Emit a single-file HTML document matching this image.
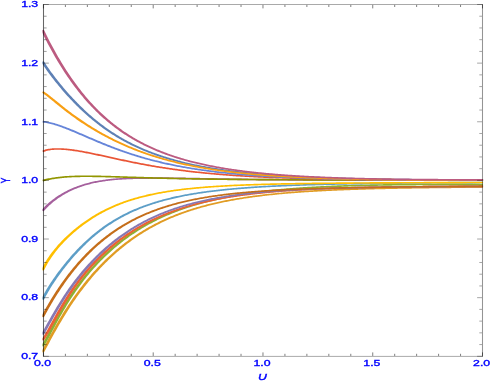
<!DOCTYPE html>
<html><head><meta charset="utf-8"><title>plot</title>
<style>
html,body{margin:0;padding:0;background:#fff;}
body{width:491px;height:382px;overflow:hidden;font-family:"Liberation Sans",sans-serif;}
svg{display:block}
text{font-family:"Liberation Sans",sans-serif;fill:#0000ff;stroke:#0000ff;stroke-width:0.35px;}
</style></head><body>
<svg width="491" height="382" viewBox="0 0 491 382">
<rect x="0" y="0" width="491" height="382" fill="#ffffff"/>
<defs><clipPath id="c"><rect x="42.45" y="4.5" width="440.65000000000003" height="351.8"/></clipPath></defs>

<g clip-path="url(#c)"><g transform="scale(1.8,1)" fill="none" stroke-width="1.65" stroke-linejoin="round" stroke-linecap="butt">
<path d="M23.59,61.59 L24.14,63.14 L24.75,64.82 L25.36,66.46 L25.97,68.06 L26.58,69.63 L27.19,71.18 L27.80,72.69 L28.41,74.18 L29.02,75.65 L29.63,77.10 L30.24,78.52 L30.85,79.93 L31.46,81.31 L32.07,82.68 L32.68,84.03 L33.29,85.37 L33.90,86.69 L34.51,87.99 L35.12,89.28 L35.72,90.55 L36.33,91.81 L36.94,93.06 L37.55,94.29 L38.16,95.51 L38.77,96.71 L39.38,97.90 L39.99,99.07 L40.60,100.23 L41.21,101.38 L41.82,102.51 L42.43,103.63 L43.04,104.74 L43.65,105.83 L44.26,106.91 L44.87,107.98 L45.48,109.03 L46.09,110.07 L46.70,111.10 L47.31,112.11 L47.92,113.11 L48.53,114.09 L49.14,115.07 L49.75,116.03 L50.36,116.98 L50.97,117.91 L51.58,118.84 L52.19,119.75 L52.80,120.64 L53.41,121.53 L54.02,122.40 L54.63,123.26 L55.24,124.11 L55.85,124.95 L56.46,125.77 L57.07,126.59 L57.68,127.39 L58.29,128.18 L58.90,128.96 L59.51,129.73 L60.12,130.48 L60.73,131.23 L61.34,131.96 L61.95,132.69 L62.56,133.40 L63.17,134.11 L63.78,134.80 L64.39,135.48 L64.99,136.15 L65.60,136.82 L66.21,137.47 L66.82,138.11 L67.43,138.74 L68.04,139.37 L68.65,139.98 L69.26,140.59 L69.87,141.18 L70.48,141.77 L71.09,142.35 L71.70,142.92 L72.31,143.48 L72.92,144.03 L73.53,144.58 L74.14,145.12 L74.75,145.64 L75.36,146.16 L75.97,146.68 L76.58,147.18 L77.19,147.68 L77.80,148.17 L78.41,148.65 L79.02,149.12 L79.63,149.59 L80.24,150.05 L80.85,150.50 L81.46,150.95 L82.07,151.39 L82.68,151.82 L83.29,152.25 L83.90,152.67 L84.51,153.08 L85.12,153.49 L85.73,153.89 L86.34,154.29 L86.95,154.68 L87.56,155.06 L88.17,155.44 L88.78,155.81 L89.39,156.17 L90.00,156.53 L90.61,156.89 L91.22,157.24 L91.83,157.58 L92.44,157.92 L93.05,158.26 L93.66,158.59 L94.26,158.91 L94.87,159.23 L95.48,159.54 L96.09,159.85 L96.70,160.16 L97.31,160.46 L97.92,160.75 L98.53,161.05 L99.14,161.33 L99.75,161.61 L100.36,161.89 L100.97,162.17 L101.58,162.44 L102.19,162.70 L102.80,162.97 L103.41,163.22 L104.02,163.48 L104.63,163.73 L105.24,163.98 L105.85,164.22 L106.46,164.46 L107.07,164.69 L107.68,164.93 L108.29,165.16 L108.90,165.38 L109.51,165.60 L110.12,165.82 L110.73,166.04 L111.34,166.25 L111.95,166.46 L112.56,166.67 L113.17,166.87 L113.78,167.07 L114.39,167.27 L115.00,167.46 L115.61,167.65 L116.22,167.84 L116.83,168.02 L117.44,168.21 L118.05,168.39 L118.66,168.57 L119.27,168.74 L119.88,168.91 L120.49,169.08 L121.10,169.25 L121.71,169.41 L122.32,169.58 L122.93,169.74 L123.53,169.90 L124.14,170.05 L124.75,170.20 L125.36,170.35 L125.97,170.50 L126.58,170.65 L127.19,170.79 L127.80,170.94 L128.41,171.08 L129.02,171.21 L129.63,171.35 L130.24,171.48 L130.85,171.62 L131.46,171.75 L132.07,171.88 L132.68,172.00 L133.29,172.13 L133.90,172.25 L134.51,172.37 L135.12,172.49 L135.73,172.61 L136.34,172.72 L136.95,172.84 L137.56,172.95 L138.17,173.06 L138.78,173.17 L139.39,173.28 L140.00,173.38 L140.61,173.49 L141.22,173.59 L141.83,173.69 L142.44,173.79 L143.05,173.89 L143.66,173.99 L144.27,174.08 L144.88,174.18 L145.49,174.27 L146.10,174.36 L146.71,174.45 L147.32,174.54 L147.93,174.63 L148.54,174.72 L149.15,174.80 L149.76,174.89 L150.37,174.97 L150.98,175.05 L151.59,175.13 L152.20,175.21 L152.80,175.29 L153.41,175.36 L154.02,175.44 L154.63,175.51 L155.24,175.59 L155.85,175.66 L156.46,175.73 L157.07,175.80 L157.68,175.87 L158.29,175.94 L158.90,176.01 L159.51,176.08 L160.12,176.14 L160.73,176.21 L161.34,176.27 L161.95,176.33 L162.56,176.39 L163.17,176.45 L163.78,176.51 L164.39,176.57 L165.00,176.63 L165.61,176.69 L166.22,176.75 L166.83,176.80 L167.44,176.86 L168.05,176.91 L168.66,176.96 L169.27,177.02 L169.88,177.07 L170.49,177.12 L171.10,177.17 L171.71,177.22 L172.32,177.27 L172.93,177.32 L173.54,177.37 L174.15,177.41 L174.76,177.46 L175.37,177.50 L175.98,177.55 L176.59,177.59 L177.20,177.64 L177.81,177.68 L178.42,177.72 L179.03,177.76 L179.64,177.80 L180.25,177.84 L180.86,177.88 L181.47,177.92 L182.07,177.96 L182.68,178.00 L183.29,178.04 L183.90,178.07 L184.51,178.11 L185.12,178.15 L185.73,178.18 L186.34,178.22 L186.95,178.25 L187.56,178.29 L188.17,178.32 L188.78,178.35 L189.39,178.38 L190.00,178.42 L190.61,178.45 L191.22,178.48 L191.83,178.51 L192.44,178.54 L193.05,178.57 L193.66,178.60 L194.27,178.63 L194.88,178.65 L195.49,178.68 L196.10,178.71 L196.71,178.74 L197.32,178.76 L197.93,178.79 L198.54,178.82 L199.15,178.84 L199.76,178.87 L200.37,178.89 L200.98,178.91 L201.59,178.94 L202.20,178.96 L202.81,178.99 L203.42,179.01 L204.03,179.03 L204.64,179.05 L205.25,179.07 L205.86,179.10 L206.47,179.12 L207.08,179.14 L207.69,179.16 L208.30,179.18 L208.91,179.20 L209.52,179.22 L210.13,179.24 L210.74,179.26 L211.34,179.27 L211.95,179.29 L212.56,179.31 L213.17,179.33 L213.78,179.35 L214.39,179.36 L215.00,179.38 L215.61,179.40 L216.22,179.41 L216.83,179.43 L217.44,179.44 L218.05,179.46 L218.66,179.48 L219.27,179.49 L219.88,179.51 L220.49,179.52 L221.10,179.53 L221.71,179.55 L222.32,179.56 L222.93,179.58 L223.54,179.59 L224.15,179.60 L224.76,179.62 L225.37,179.63 L225.98,179.64 L226.59,179.65 L227.20,179.67 L227.81,179.68 L228.42,179.69 L229.03,179.70 L229.64,179.71 L230.25,179.72 L230.86,179.73 L231.47,179.74 L232.08,179.76 L232.69,179.77 L233.30,179.78 L233.91,179.79 L234.52,179.80 L235.13,179.81 L235.74,179.82 L236.35,179.82 L236.96,179.83 L237.57,179.84 L238.18,179.85 L238.79,179.86 L239.40,179.87 L240.01,179.88 L240.61,179.89 L241.22,179.89 L241.83,179.90 L242.44,179.91 L243.05,179.92 L243.66,179.92 L244.27,179.93 L244.88,179.94 L245.49,179.95 L246.10,179.95 L246.71,179.96 L247.32,179.97 L247.93,179.97 L248.54,179.98 L249.15,179.98 L249.76,179.99 L250.37,180.00 L250.98,180.00 L251.59,180.01 L252.20,180.01 L252.81,180.02 L253.42,180.03 L254.03,180.03 L254.64,180.04 L255.25,180.04 L255.86,180.05 L256.47,180.05 L257.08,180.05 L257.69,180.06 L258.30,180.06 L258.91,180.07 L259.52,180.07 L260.13,180.08 L260.74,180.08 L261.35,180.09 L261.96,180.09 L262.57,180.09 L263.18,180.10 L263.79,180.10 L264.40,180.10 L265.01,180.11 L265.62,180.11 L266.23,180.11 L266.84,180.12 L267.45,180.12 L268.06,180.12 L268.54,180.13" stroke="#5E81B5"/>
<path d="M23.59,352.22 L24.14,350.44 L24.75,348.45 L25.36,346.43 L25.97,344.41 L26.58,342.39 L27.19,340.37 L27.80,338.35 L28.41,336.35 L29.02,334.35 L29.63,332.37 L30.24,330.41 L30.85,328.46 L31.46,326.53 L32.07,324.62 L32.68,322.73 L33.29,320.87 L33.90,319.02 L34.51,317.20 L35.12,315.40 L35.72,313.63 L36.33,311.87 L36.94,310.14 L37.55,308.43 L38.16,306.74 L38.77,305.08 L39.38,303.43 L39.99,301.81 L40.60,300.21 L41.21,298.63 L41.82,297.07 L42.43,295.53 L43.04,294.01 L43.65,292.51 L44.26,291.03 L44.87,289.57 L45.48,288.13 L46.09,286.71 L46.70,285.31 L47.31,283.92 L47.92,282.56 L48.53,281.21 L49.14,279.87 L49.75,278.56 L50.36,277.26 L50.97,275.98 L51.58,274.72 L52.19,273.47 L52.80,272.24 L53.41,271.02 L54.02,269.82 L54.63,268.64 L55.24,267.47 L55.85,266.31 L56.46,265.18 L57.07,264.05 L57.68,262.94 L58.29,261.85 L58.90,260.77 L59.51,259.70 L60.12,258.65 L60.73,257.61 L61.34,256.59 L61.95,255.58 L62.56,254.58 L63.17,253.59 L63.78,252.62 L64.39,251.67 L64.99,250.72 L65.60,249.79 L66.21,248.87 L66.82,247.96 L67.43,247.06 L68.04,246.18 L68.65,245.31 L69.26,244.45 L69.87,243.60 L70.48,242.77 L71.09,241.94 L71.70,241.13 L72.31,240.33 L72.92,239.54 L73.53,238.76 L74.14,237.99 L74.75,237.23 L75.36,236.49 L75.97,235.75 L76.58,235.02 L77.19,234.31 L77.80,233.60 L78.41,232.90 L79.02,232.22 L79.63,231.54 L80.24,230.87 L80.85,230.22 L81.46,229.57 L82.07,228.93 L82.68,228.30 L83.29,227.68 L83.90,227.07 L84.51,226.46 L85.12,225.87 L85.73,225.29 L86.34,224.71 L86.95,224.14 L87.56,223.58 L88.17,223.03 L88.78,222.48 L89.39,221.95 L90.00,221.42 L90.61,220.90 L91.22,220.38 L91.83,219.88 L92.44,219.38 L93.05,218.89 L93.66,218.41 L94.26,217.93 L94.87,217.46 L95.48,217.00 L96.09,216.54 L96.70,216.09 L97.31,215.65 L97.92,215.22 L98.53,214.79 L99.14,214.37 L99.75,213.95 L100.36,213.54 L100.97,213.13 L101.58,212.74 L102.19,212.34 L102.80,211.96 L103.41,211.58 L104.02,211.20 L104.63,210.83 L105.24,210.47 L105.85,210.11 L106.46,209.76 L107.07,209.41 L107.68,209.07 L108.29,208.73 L108.90,208.40 L109.51,208.07 L110.12,207.75 L110.73,207.43 L111.34,207.12 L111.95,206.81 L112.56,206.51 L113.17,206.21 L113.78,205.92 L114.39,205.63 L115.00,205.34 L115.61,205.06 L116.22,204.78 L116.83,204.51 L117.44,204.24 L118.05,203.98 L118.66,203.72 L119.27,203.46 L119.88,203.21 L120.49,202.96 L121.10,202.71 L121.71,202.47 L122.32,202.23 L122.93,202.00 L123.53,201.77 L124.14,201.54 L124.75,201.32 L125.36,201.10 L125.97,200.88 L126.58,200.67 L127.19,200.46 L127.80,200.25 L128.41,200.05 L129.02,199.85 L129.63,199.65 L130.24,199.45 L130.85,199.26 L131.46,199.07 L132.07,198.89 L132.68,198.70 L133.29,198.52 L133.90,198.34 L134.51,198.17 L135.12,198.00 L135.73,197.83 L136.34,197.66 L136.95,197.49 L137.56,197.33 L138.17,197.17 L138.78,197.01 L139.39,196.86 L140.00,196.71 L140.61,196.56 L141.22,196.41 L141.83,196.26 L142.44,196.12 L143.05,195.98 L143.66,195.84 L144.27,195.70 L144.88,195.57 L145.49,195.43 L146.10,195.30 L146.71,195.17 L147.32,195.05 L147.93,194.92 L148.54,194.80 L149.15,194.68 L149.76,194.56 L150.37,194.44 L150.98,194.32 L151.59,194.21 L152.20,194.10 L152.80,193.98 L153.41,193.88 L154.02,193.77 L154.63,193.66 L155.24,193.56 L155.85,193.45 L156.46,193.35 L157.07,193.25 L157.68,193.16 L158.29,193.06 L158.90,192.96 L159.51,192.87 L160.12,192.78 L160.73,192.69 L161.34,192.60 L161.95,192.51 L162.56,192.42 L163.17,192.34 L163.78,192.25 L164.39,192.17 L165.00,192.09 L165.61,192.01 L166.22,191.93 L166.83,191.85 L167.44,191.77 L168.05,191.70 L168.66,191.62 L169.27,191.55 L169.88,191.48 L170.49,191.40 L171.10,191.33 L171.71,191.27 L172.32,191.20 L172.93,191.13 L173.54,191.06 L174.15,191.00 L174.76,190.93 L175.37,190.87 L175.98,190.81 L176.59,190.75 L177.20,190.69 L177.81,190.63 L178.42,190.57 L179.03,190.51 L179.64,190.45 L180.25,190.40 L180.86,190.34 L181.47,190.29 L182.07,190.24 L182.68,190.18 L183.29,190.13 L183.90,190.08 L184.51,190.03 L185.12,189.98 L185.73,189.93 L186.34,189.88 L186.95,189.83 L187.56,189.79 L188.17,189.74 L188.78,189.70 L189.39,189.65 L190.00,189.61 L190.61,189.56 L191.22,189.52 L191.83,189.48 L192.44,189.44 L193.05,189.40 L193.66,189.36 L194.27,189.32 L194.88,189.28 L195.49,189.24 L196.10,189.20 L196.71,189.16 L197.32,189.13 L197.93,189.09 L198.54,189.06 L199.15,189.02 L199.76,188.99 L200.37,188.95 L200.98,188.92 L201.59,188.88 L202.20,188.85 L202.81,188.82 L203.42,188.79 L204.03,188.76 L204.64,188.73 L205.25,188.69 L205.86,188.66 L206.47,188.64 L207.08,188.61 L207.69,188.58 L208.30,188.55 L208.91,188.52 L209.52,188.49 L210.13,188.47 L210.74,188.44 L211.34,188.41 L211.95,188.39 L212.56,188.36 L213.17,188.34 L213.78,188.31 L214.39,188.29 L215.00,188.26 L215.61,188.24 L216.22,188.22 L216.83,188.19 L217.44,188.17 L218.05,188.15 L218.66,188.13 L219.27,188.11 L219.88,188.08 L220.49,188.06 L221.10,188.04 L221.71,188.02 L222.32,188.00 L222.93,187.98 L223.54,187.96 L224.15,187.94 L224.76,187.92 L225.37,187.90 L225.98,187.89 L226.59,187.87 L227.20,187.85 L227.81,187.83 L228.42,187.81 L229.03,187.80 L229.64,187.78 L230.25,187.76 L230.86,187.75 L231.47,187.73 L232.08,187.71 L232.69,187.70 L233.30,187.68 L233.91,187.67 L234.52,187.65 L235.13,187.63 L235.74,187.62 L236.35,187.60 L236.96,187.59 L237.57,187.58 L238.18,187.56 L238.79,187.55 L239.40,187.53 L240.01,187.52 L240.61,187.51 L241.22,187.49 L241.83,187.48 L242.44,187.47 L243.05,187.46 L243.66,187.44 L244.27,187.43 L244.88,187.42 L245.49,187.41 L246.10,187.39 L246.71,187.38 L247.32,187.37 L247.93,187.36 L248.54,187.35 L249.15,187.34 L249.76,187.33 L250.37,187.31 L250.98,187.30 L251.59,187.29 L252.20,187.28 L252.81,187.27 L253.42,187.26 L254.03,187.25 L254.64,187.24 L255.25,187.23 L255.86,187.22 L256.47,187.21 L257.08,187.20 L257.69,187.19 L258.30,187.18 L258.91,187.18 L259.52,187.17 L260.13,187.16 L260.74,187.15 L261.35,187.14 L261.96,187.13 L262.57,187.12 L263.18,187.11 L263.79,187.11 L264.40,187.10 L265.01,187.09 L265.62,187.08 L266.23,187.07 L266.84,187.06 L267.45,187.06 L268.06,187.05 L268.54,187.04" stroke="#E19C24"/>
<path d="M23.59,346.28 L24.14,344.61 L24.75,342.69 L25.36,340.72 L25.97,338.72 L26.58,336.69 L27.19,334.64 L27.80,332.58 L28.41,330.52 L29.02,328.46 L29.63,326.41 L30.24,324.37 L30.85,322.34 L31.46,320.33 L32.07,318.34 L32.68,316.37 L33.29,314.42 L33.90,312.50 L34.51,310.60 L35.12,308.73 L35.72,306.88 L36.33,305.07 L36.94,303.28 L37.55,301.51 L38.16,299.77 L38.77,298.06 L39.38,296.38 L39.99,294.72 L40.60,293.09 L41.21,291.49 L41.82,289.91 L42.43,288.35 L43.04,286.82 L43.65,285.32 L44.26,283.83 L44.87,282.37 L45.48,280.94 L46.09,279.52 L46.70,278.13 L47.31,276.76 L47.92,275.41 L48.53,274.08 L49.14,272.77 L49.75,271.48 L50.36,270.21 L50.97,268.96 L51.58,267.72 L52.19,266.51 L52.80,265.31 L53.41,264.13 L54.02,262.97 L54.63,261.82 L55.24,260.70 L55.85,259.58 L56.46,258.49 L57.07,257.41 L57.68,256.34 L58.29,255.29 L58.90,254.26 L59.51,253.24 L60.12,252.23 L60.73,251.24 L61.34,250.26 L61.95,249.30 L62.56,248.35 L63.17,247.41 L63.78,246.49 L64.39,245.58 L64.99,244.68 L65.60,243.79 L66.21,242.92 L66.82,242.06 L67.43,241.21 L68.04,240.37 L68.65,239.55 L69.26,238.73 L69.87,237.93 L70.48,237.14 L71.09,236.36 L71.70,235.59 L72.31,234.83 L72.92,234.08 L73.53,233.35 L74.14,232.62 L74.75,231.90 L75.36,231.20 L75.97,230.50 L76.58,229.81 L77.19,229.13 L77.80,228.47 L78.41,227.81 L79.02,227.16 L79.63,226.52 L80.24,225.88 L80.85,225.26 L81.46,224.65 L82.07,224.04 L82.68,223.45 L83.29,222.86 L83.90,222.28 L84.51,221.71 L85.12,221.14 L85.73,220.59 L86.34,220.04 L86.95,219.50 L87.56,218.97 L88.17,218.44 L88.78,217.92 L89.39,217.41 L90.00,216.91 L90.61,216.41 L91.22,215.92 L91.83,215.44 L92.44,214.97 L93.05,214.50 L93.66,214.04 L94.26,213.58 L94.87,213.13 L95.48,212.69 L96.09,212.26 L96.70,211.83 L97.31,211.40 L97.92,210.99 L98.53,210.57 L99.14,210.17 L99.75,209.77 L100.36,209.38 L100.97,208.99 L101.58,208.60 L102.19,208.23 L102.80,207.86 L103.41,207.49 L104.02,207.13 L104.63,206.77 L105.24,206.42 L105.85,206.08 L106.46,205.74 L107.07,205.40 L107.68,205.07 L108.29,204.74 L108.90,204.42 L109.51,204.10 L110.12,203.79 L110.73,203.48 L111.34,203.18 L111.95,202.88 L112.56,202.59 L113.17,202.30 L113.78,202.01 L114.39,201.73 L115.00,201.45 L115.61,201.18 L116.22,200.91 L116.83,200.64 L117.44,200.38 L118.05,200.12 L118.66,199.87 L119.27,199.62 L119.88,199.37 L120.49,199.13 L121.10,198.89 L121.71,198.65 L122.32,198.42 L122.93,198.19 L123.53,197.96 L124.14,197.74 L124.75,197.52 L125.36,197.30 L125.97,197.09 L126.58,196.88 L127.19,196.67 L127.80,196.47 L128.41,196.27 L129.02,196.07 L129.63,195.87 L130.24,195.68 L130.85,195.49 L131.46,195.31 L132.07,195.12 L132.68,194.94 L133.29,194.76 L133.90,194.59 L134.51,194.41 L135.12,194.24 L135.73,194.07 L136.34,193.91 L136.95,193.75 L137.56,193.59 L138.17,193.43 L138.78,193.27 L139.39,193.12 L140.00,192.97 L140.61,192.82 L141.22,192.67 L141.83,192.53 L142.44,192.38 L143.05,192.24 L143.66,192.11 L144.27,191.97 L144.88,191.83 L145.49,191.70 L146.10,191.57 L146.71,191.44 L147.32,191.32 L147.93,191.19 L148.54,191.07 L149.15,190.95 L149.76,190.83 L150.37,190.72 L150.98,190.60 L151.59,190.49 L152.20,190.38 L152.80,190.27 L153.41,190.16 L154.02,190.05 L154.63,189.95 L155.24,189.84 L155.85,189.74 L156.46,189.64 L157.07,189.54 L157.68,189.45 L158.29,189.35 L158.90,189.26 L159.51,189.16 L160.12,189.07 L160.73,188.98 L161.34,188.89 L161.95,188.81 L162.56,188.72 L163.17,188.64 L163.78,188.55 L164.39,188.47 L165.00,188.39 L165.61,188.31 L166.22,188.23 L166.83,188.16 L167.44,188.08 L168.05,188.01 L168.66,187.94 L169.27,187.86 L169.88,187.79 L170.49,187.72 L171.10,187.66 L171.71,187.59 L172.32,187.52 L172.93,187.46 L173.54,187.39 L174.15,187.33 L174.76,187.27 L175.37,187.21 L175.98,187.15 L176.59,187.09 L177.20,187.03 L177.81,186.97 L178.42,186.92 L179.03,186.86 L179.64,186.81 L180.25,186.75 L180.86,186.70 L181.47,186.65 L182.07,186.60 L182.68,186.55 L183.29,186.50 L183.90,186.45 L184.51,186.41 L185.12,186.36 L185.73,186.31 L186.34,186.27 L186.95,186.22 L187.56,186.18 L188.17,186.14 L188.78,186.10 L189.39,186.06 L190.00,186.02 L190.61,185.98 L191.22,185.94 L191.83,185.90 L192.44,185.86 L193.05,185.82 L193.66,185.79 L194.27,185.75 L194.88,185.72 L195.49,185.68 L196.10,185.65 L196.71,185.62 L197.32,185.59 L197.93,185.55 L198.54,185.52 L199.15,185.49 L199.76,185.46 L200.37,185.43 L200.98,185.40 L201.59,185.38 L202.20,185.35 L202.81,185.32 L203.42,185.30 L204.03,185.27 L204.64,185.24 L205.25,185.22 L205.86,185.19 L206.47,185.17 L207.08,185.15 L207.69,185.12 L208.30,185.10 L208.91,185.08 L209.52,185.06 L210.13,185.04 L210.74,185.02 L211.34,185.00 L211.95,184.98 L212.56,184.96 L213.17,184.94 L213.78,184.92 L214.39,184.90 L215.00,184.89 L215.61,184.87 L216.22,184.85 L216.83,184.83 L217.44,184.82 L218.05,184.80 L218.66,184.79 L219.27,184.77 L219.88,184.76 L220.49,184.74 L221.10,184.73 L221.71,184.72 L222.32,184.70 L222.93,184.69 L223.54,184.68 L224.15,184.67 L224.76,184.66 L225.37,184.65 L225.98,184.63 L226.59,184.62 L227.20,184.61 L227.81,184.60 L228.42,184.59 L229.03,184.58 L229.64,184.57 L230.25,184.57 L230.86,184.56 L231.47,184.55 L232.08,184.54 L232.69,184.53 L233.30,184.53 L233.91,184.52 L234.52,184.51 L235.13,184.51 L235.74,184.50 L236.35,184.49 L236.96,184.49 L237.57,184.48 L238.18,184.48 L238.79,184.47 L239.40,184.47 L240.01,184.46 L240.61,184.46 L241.22,184.45 L241.83,184.45 L242.44,184.45 L243.05,184.44 L243.66,184.44 L244.27,184.44 L244.88,184.43 L245.49,184.43 L246.10,184.43 L246.71,184.43 L247.32,184.42 L247.93,184.42 L248.54,184.42 L249.15,184.42 L249.76,184.42 L250.37,184.42 L250.98,184.41 L251.59,184.41 L252.20,184.41 L252.81,184.41 L253.42,184.41 L254.03,184.41 L254.64,184.41 L255.25,184.41 L255.86,184.41 L256.47,184.41 L257.08,184.41 L257.69,184.42 L258.30,184.42 L258.91,184.42 L259.52,184.42 L260.13,184.42 L260.74,184.42 L261.35,184.42 L261.96,184.43 L262.57,184.43 L263.18,184.43 L263.79,184.43 L264.40,184.43 L265.01,184.44 L265.62,184.44 L266.23,184.44 L266.84,184.45 L267.45,184.45 L268.06,184.45 L268.54,184.45" stroke="#8FB032"/>
<path d="M23.59,340.26 L24.14,338.84 L24.75,337.17 L25.36,335.40 L25.97,333.55 L26.58,331.65 L27.19,329.71 L27.80,327.74 L28.41,325.75 L29.02,323.74 L29.63,321.74 L30.24,319.73 L30.85,317.74 L31.46,315.75 L32.07,313.79 L32.68,311.84 L33.29,309.91 L33.90,308.01 L34.51,306.13 L35.12,304.28 L35.72,302.46 L36.33,300.67 L36.94,298.90 L37.55,297.16 L38.16,295.45 L38.77,293.77 L39.38,292.12 L39.99,290.49 L40.60,288.89 L41.21,287.32 L41.82,285.78 L42.43,284.26 L43.04,282.77 L43.65,281.30 L44.26,279.86 L44.87,278.44 L45.48,277.04 L46.09,275.67 L46.70,274.32 L47.31,272.99 L47.92,271.68 L48.53,270.40 L49.14,269.13 L49.75,267.88 L50.36,266.66 L50.97,265.45 L51.58,264.26 L52.19,263.09 L52.80,261.93 L53.41,260.80 L54.02,259.68 L54.63,258.58 L55.24,257.49 L55.85,256.42 L56.46,255.37 L57.07,254.33 L57.68,253.30 L58.29,252.29 L58.90,251.30 L59.51,250.32 L60.12,249.35 L60.73,248.40 L61.34,247.46 L61.95,246.53 L62.56,245.62 L63.17,244.72 L63.78,243.83 L64.39,242.96 L64.99,242.10 L65.60,241.25 L66.21,240.41 L66.82,239.59 L67.43,238.77 L68.04,237.97 L68.65,237.18 L69.26,236.40 L69.87,235.63 L70.48,234.87 L71.09,234.13 L71.70,233.39 L72.31,232.67 L72.92,231.95 L73.53,231.24 L74.14,230.55 L74.75,229.87 L75.36,229.19 L75.97,228.52 L76.58,227.87 L77.19,227.22 L77.80,226.59 L78.41,225.96 L79.02,225.34 L79.63,224.73 L80.24,224.13 L80.85,223.54 L81.46,222.96 L82.07,222.38 L82.68,221.82 L83.29,221.26 L83.90,220.71 L84.51,220.17 L85.12,219.63 L85.73,219.11 L86.34,218.59 L86.95,218.08 L87.56,217.58 L88.17,217.08 L88.78,216.60 L89.39,216.12 L90.00,215.64 L90.61,215.18 L91.22,214.72 L91.83,214.27 L92.44,213.82 L93.05,213.38 L93.66,212.95 L94.26,212.53 L94.87,212.11 L95.48,211.70 L96.09,211.29 L96.70,210.89 L97.31,210.50 L97.92,210.11 L98.53,209.73 L99.14,209.35 L99.75,208.98 L100.36,208.62 L100.97,208.26 L101.58,207.91 L102.19,207.56 L102.80,207.22 L103.41,206.88 L104.02,206.55 L104.63,206.22 L105.24,205.90 L105.85,205.58 L106.46,205.27 L107.07,204.96 L107.68,204.66 L108.29,204.36 L108.90,204.07 L109.51,203.78 L110.12,203.50 L110.73,203.22 L111.34,202.95 L111.95,202.68 L112.56,202.41 L113.17,202.15 L113.78,201.89 L114.39,201.63 L115.00,201.38 L115.61,201.14 L116.22,200.90 L116.83,200.66 L117.44,200.42 L118.05,200.19 L118.66,199.97 L119.27,199.74 L119.88,199.52 L120.49,199.30 L121.10,199.09 L121.71,198.88 L122.32,198.68 L122.93,198.47 L123.53,198.27 L124.14,198.08 L124.75,197.88 L125.36,197.69 L125.97,197.50 L126.58,197.32 L127.19,197.14 L127.80,196.96 L128.41,196.78 L129.02,196.61 L129.63,196.44 L130.24,196.27 L130.85,196.11 L131.46,195.94 L132.07,195.78 L132.68,195.63 L133.29,195.47 L133.90,195.32 L134.51,195.17 L135.12,195.02 L135.73,194.88 L136.34,194.73 L136.95,194.59 L137.56,194.45 L138.17,194.32 L138.78,194.18 L139.39,194.05 L140.00,193.92 L140.61,193.80 L141.22,193.67 L141.83,193.55 L142.44,193.43 L143.05,193.31 L143.66,193.19 L144.27,193.07 L144.88,192.96 L145.49,192.85 L146.10,192.74 L146.71,192.63 L147.32,192.52 L147.93,192.42 L148.54,192.31 L149.15,192.21 L149.76,192.11 L150.37,192.01 L150.98,191.92 L151.59,191.82 L152.20,191.73 L152.80,191.64 L153.41,191.54 L154.02,191.46 L154.63,191.37 L155.24,191.28 L155.85,191.20 L156.46,191.11 L157.07,191.03 L157.68,190.95 L158.29,190.87 L158.90,190.79 L159.51,190.72 L160.12,190.64 L160.73,190.56 L161.34,190.49 L161.95,190.42 L162.56,190.35 L163.17,190.28 L163.78,190.21 L164.39,190.14 L165.00,190.08 L165.61,190.01 L166.22,189.95 L166.83,189.88 L167.44,189.82 L168.05,189.76 L168.66,189.70 L169.27,189.64 L169.88,189.58 L170.49,189.52 L171.10,189.47 L171.71,189.41 L172.32,189.36 L172.93,189.30 L173.54,189.25 L174.15,189.20 L174.76,189.15 L175.37,189.10 L175.98,189.05 L176.59,189.00 L177.20,188.95 L177.81,188.91 L178.42,188.86 L179.03,188.81 L179.64,188.77 L180.25,188.72 L180.86,188.68 L181.47,188.64 L182.07,188.60 L182.68,188.56 L183.29,188.52 L183.90,188.48 L184.51,188.44 L185.12,188.40 L185.73,188.36 L186.34,188.32 L186.95,188.29 L187.56,188.25 L188.17,188.21 L188.78,188.18 L189.39,188.15 L190.00,188.11 L190.61,188.08 L191.22,188.05 L191.83,188.01 L192.44,187.98 L193.05,187.95 L193.66,187.92 L194.27,187.89 L194.88,187.86 L195.49,187.83 L196.10,187.80 L196.71,187.77 L197.32,187.75 L197.93,187.72 L198.54,187.69 L199.15,187.67 L199.76,187.64 L200.37,187.62 L200.98,187.59 L201.59,187.57 L202.20,187.54 L202.81,187.52 L203.42,187.49 L204.03,187.47 L204.64,187.45 L205.25,187.43 L205.86,187.41 L206.47,187.38 L207.08,187.36 L207.69,187.34 L208.30,187.32 L208.91,187.30 L209.52,187.28 L210.13,187.26 L210.74,187.24 L211.34,187.22 L211.95,187.21 L212.56,187.19 L213.17,187.17 L213.78,187.15 L214.39,187.13 L215.00,187.12 L215.61,187.10 L216.22,187.08 L216.83,187.07 L217.44,187.05 L218.05,187.04 L218.66,187.02 L219.27,187.01 L219.88,186.99 L220.49,186.98 L221.10,186.96 L221.71,186.95 L222.32,186.93 L222.93,186.92 L223.54,186.91 L224.15,186.89 L224.76,186.88 L225.37,186.87 L225.98,186.85 L226.59,186.84 L227.20,186.83 L227.81,186.82 L228.42,186.81 L229.03,186.79 L229.64,186.78 L230.25,186.77 L230.86,186.76 L231.47,186.75 L232.08,186.74 L232.69,186.73 L233.30,186.72 L233.91,186.71 L234.52,186.70 L235.13,186.69 L235.74,186.68 L236.35,186.67 L236.96,186.66 L237.57,186.65 L238.18,186.64 L238.79,186.63 L239.40,186.62 L240.01,186.62 L240.61,186.61 L241.22,186.60 L241.83,186.59 L242.44,186.58 L243.05,186.57 L243.66,186.57 L244.27,186.56 L244.88,186.55 L245.49,186.54 L246.10,186.54 L246.71,186.53 L247.32,186.52 L247.93,186.51 L248.54,186.51 L249.15,186.50 L249.76,186.49 L250.37,186.49 L250.98,186.48 L251.59,186.47 L252.20,186.47 L252.81,186.46 L253.42,186.46 L254.03,186.45 L254.64,186.44 L255.25,186.44 L255.86,186.43 L256.47,186.43 L257.08,186.42 L257.69,186.42 L258.30,186.41 L258.91,186.40 L259.52,186.40 L260.13,186.39 L260.74,186.39 L261.35,186.38 L261.96,186.38 L262.57,186.37 L263.18,186.37 L263.79,186.36 L264.40,186.36 L265.01,186.35 L265.62,186.35 L266.23,186.35 L266.84,186.34 L267.45,186.34 L268.06,186.33 L268.54,186.33" stroke="#EB6235"/>
<path d="M23.59,334.55 L24.14,332.85 L24.75,330.94 L25.36,329.00 L25.97,327.04 L26.58,325.08 L27.19,323.12 L27.80,321.16 L28.41,319.21 L29.02,317.27 L29.63,315.35 L30.24,313.44 L30.85,311.55 L31.46,309.68 L32.07,307.83 L32.68,306.01 L33.29,304.21 L33.90,302.44 L34.51,300.69 L35.12,298.96 L35.72,297.26 L36.33,295.59 L36.94,293.94 L37.55,292.31 L38.16,290.71 L38.77,289.13 L39.38,287.58 L39.99,286.05 L40.60,284.54 L41.21,283.06 L41.82,281.60 L42.43,280.16 L43.04,278.74 L43.65,277.34 L44.26,275.97 L44.87,274.61 L45.48,273.27 L46.09,271.96 L46.70,270.66 L47.31,269.38 L47.92,268.12 L48.53,266.88 L49.14,265.65 L49.75,264.45 L50.36,263.26 L50.97,262.08 L51.58,260.93 L52.19,259.79 L52.80,258.67 L53.41,257.56 L54.02,256.47 L54.63,255.39 L55.24,254.33 L55.85,253.28 L56.46,252.25 L57.07,251.23 L57.68,250.23 L58.29,249.24 L58.90,248.26 L59.51,247.30 L60.12,246.36 L60.73,245.42 L61.34,244.50 L61.95,243.59 L62.56,242.70 L63.17,241.81 L63.78,240.94 L64.39,240.09 L64.99,239.24 L65.60,238.41 L66.21,237.59 L66.82,236.78 L67.43,235.98 L68.04,235.19 L68.65,234.42 L69.26,233.66 L69.87,232.90 L70.48,232.16 L71.09,231.43 L71.70,230.71 L72.31,230.00 L72.92,229.30 L73.53,228.62 L74.14,227.94 L74.75,227.27 L75.36,226.61 L75.97,225.96 L76.58,225.32 L77.19,224.70 L77.80,224.08 L78.41,223.47 L79.02,222.87 L79.63,222.27 L80.24,221.69 L80.85,221.12 L81.46,220.55 L82.07,220.00 L82.68,219.45 L83.29,218.91 L83.90,218.38 L84.51,217.85 L85.12,217.34 L85.73,216.83 L86.34,216.33 L86.95,215.84 L87.56,215.36 L88.17,214.88 L88.78,214.41 L89.39,213.95 L90.00,213.50 L90.61,213.05 L91.22,212.61 L91.83,212.18 L92.44,211.75 L93.05,211.33 L93.66,210.92 L94.26,210.51 L94.87,210.11 L95.48,209.72 L96.09,209.33 L96.70,208.95 L97.31,208.58 L97.92,208.21 L98.53,207.85 L99.14,207.49 L99.75,207.14 L100.36,206.79 L100.97,206.45 L101.58,206.12 L102.19,205.79 L102.80,205.46 L103.41,205.15 L104.02,204.83 L104.63,204.52 L105.24,204.22 L105.85,203.92 L106.46,203.63 L107.07,203.34 L107.68,203.06 L108.29,202.78 L108.90,202.50 L109.51,202.23 L110.12,201.97 L110.73,201.70 L111.34,201.45 L111.95,201.19 L112.56,200.94 L113.17,200.70 L113.78,200.46 L114.39,200.22 L115.00,199.99 L115.61,199.76 L116.22,199.53 L116.83,199.31 L117.44,199.10 L118.05,198.88 L118.66,198.67 L119.27,198.46 L119.88,198.26 L120.49,198.06 L121.10,197.86 L121.71,197.67 L122.32,197.48 L122.93,197.29 L123.53,197.11 L124.14,196.92 L124.75,196.75 L125.36,196.57 L125.97,196.40 L126.58,196.23 L127.19,196.06 L127.80,195.90 L128.41,195.74 L129.02,195.58 L129.63,195.42 L130.24,195.27 L130.85,195.12 L131.46,194.97 L132.07,194.82 L132.68,194.68 L133.29,194.54 L133.90,194.40 L134.51,194.27 L135.12,194.13 L135.73,194.00 L136.34,193.87 L136.95,193.74 L137.56,193.62 L138.17,193.49 L138.78,193.37 L139.39,193.25 L140.00,193.14 L140.61,193.02 L141.22,192.91 L141.83,192.80 L142.44,192.69 L143.05,192.58 L143.66,192.48 L144.27,192.37 L144.88,192.27 L145.49,192.17 L146.10,192.07 L146.71,191.97 L147.32,191.88 L147.93,191.78 L148.54,191.69 L149.15,191.60 L149.76,191.51 L150.37,191.42 L150.98,191.34 L151.59,191.25 L152.20,191.17 L152.80,191.09 L153.41,191.01 L154.02,190.93 L154.63,190.85 L155.24,190.77 L155.85,190.70 L156.46,190.63 L157.07,190.55 L157.68,190.48 L158.29,190.41 L158.90,190.34 L159.51,190.27 L160.12,190.21 L160.73,190.14 L161.34,190.08 L161.95,190.01 L162.56,189.95 L163.17,189.89 L163.78,189.83 L164.39,189.77 L165.00,189.71 L165.61,189.65 L166.22,189.60 L166.83,189.54 L167.44,189.49 L168.05,189.44 L168.66,189.38 L169.27,189.33 L169.88,189.28 L170.49,189.23 L171.10,189.18 L171.71,189.13 L172.32,189.08 L172.93,189.04 L173.54,188.99 L174.15,188.95 L174.76,188.90 L175.37,188.86 L175.98,188.82 L176.59,188.77 L177.20,188.73 L177.81,188.69 L178.42,188.65 L179.03,188.61 L179.64,188.57 L180.25,188.53 L180.86,188.50 L181.47,188.46 L182.07,188.42 L182.68,188.39 L183.29,188.35 L183.90,188.32 L184.51,188.28 L185.12,188.25 L185.73,188.22 L186.34,188.19 L186.95,188.15 L187.56,188.12 L188.17,188.09 L188.78,188.06 L189.39,188.03 L190.00,188.00 L190.61,187.97 L191.22,187.95 L191.83,187.92 L192.44,187.89 L193.05,187.86 L193.66,187.84 L194.27,187.81 L194.88,187.79 L195.49,187.76 L196.10,187.74 L196.71,187.71 L197.32,187.69 L197.93,187.66 L198.54,187.64 L199.15,187.62 L199.76,187.60 L200.37,187.57 L200.98,187.55 L201.59,187.53 L202.20,187.51 L202.81,187.49 L203.42,187.47 L204.03,187.45 L204.64,187.43 L205.25,187.41 L205.86,187.39 L206.47,187.37 L207.08,187.35 L207.69,187.33 L208.30,187.32 L208.91,187.30 L209.52,187.28 L210.13,187.26 L210.74,187.25 L211.34,187.23 L211.95,187.21 L212.56,187.20 L213.17,187.18 L213.78,187.17 L214.39,187.15 L215.00,187.14 L215.61,187.12 L216.22,187.11 L216.83,187.09 L217.44,187.08 L218.05,187.06 L218.66,187.05 L219.27,187.04 L219.88,187.02 L220.49,187.01 L221.10,187.00 L221.71,186.98 L222.32,186.97 L222.93,186.96 L223.54,186.95 L224.15,186.93 L224.76,186.92 L225.37,186.91 L225.98,186.90 L226.59,186.89 L227.20,186.87 L227.81,186.86 L228.42,186.85 L229.03,186.84 L229.64,186.83 L230.25,186.82 L230.86,186.81 L231.47,186.80 L232.08,186.79 L232.69,186.78 L233.30,186.77 L233.91,186.76 L234.52,186.75 L235.13,186.74 L235.74,186.73 L236.35,186.72 L236.96,186.71 L237.57,186.70 L238.18,186.69 L238.79,186.68 L239.40,186.67 L240.01,186.66 L240.61,186.66 L241.22,186.65 L241.83,186.64 L242.44,186.63 L243.05,186.62 L243.66,186.61 L244.27,186.61 L244.88,186.60 L245.49,186.59 L246.10,186.58 L246.71,186.57 L247.32,186.57 L247.93,186.56 L248.54,186.55 L249.15,186.54 L249.76,186.54 L250.37,186.53 L250.98,186.52 L251.59,186.51 L252.20,186.51 L252.81,186.50 L253.42,186.49 L254.03,186.49 L254.64,186.48 L255.25,186.47 L255.86,186.46 L256.47,186.46 L257.08,186.45 L257.69,186.44 L258.30,186.44 L258.91,186.43 L259.52,186.42 L260.13,186.42 L260.74,186.41 L261.35,186.41 L261.96,186.40 L262.57,186.39 L263.18,186.39 L263.79,186.38 L264.40,186.37 L265.01,186.37 L265.62,186.36 L266.23,186.35 L266.84,186.35 L267.45,186.34 L268.06,186.34 L268.54,186.33" stroke="#8778B3"/>
<path d="M23.59,317.11 L24.14,315.26 L24.75,313.23 L25.36,311.24 L25.97,309.27 L26.58,307.33 L27.19,305.41 L27.80,303.53 L28.41,301.68 L29.02,299.85 L29.63,298.05 L30.24,296.28 L30.85,294.54 L31.46,292.82 L32.07,291.13 L32.68,289.47 L33.29,287.83 L33.90,286.21 L34.51,284.62 L35.12,283.06 L35.72,281.52 L36.33,280.00 L36.94,278.50 L37.55,277.03 L38.16,275.58 L38.77,274.15 L39.38,272.74 L39.99,271.36 L40.60,269.99 L41.21,268.65 L41.82,267.32 L42.43,266.02 L43.04,264.74 L43.65,263.47 L44.26,262.22 L44.87,261.00 L45.48,259.79 L46.09,258.60 L46.70,257.43 L47.31,256.27 L47.92,255.13 L48.53,254.01 L49.14,252.91 L49.75,251.83 L50.36,250.76 L50.97,249.70 L51.58,248.67 L52.19,247.65 L52.80,246.64 L53.41,245.65 L54.02,244.68 L54.63,243.72 L55.24,242.77 L55.85,241.84 L56.46,240.93 L57.07,240.03 L57.68,239.14 L58.29,238.27 L58.90,237.41 L59.51,236.56 L60.12,235.73 L60.73,234.91 L61.34,234.10 L61.95,233.31 L62.56,232.53 L63.17,231.76 L63.78,231.00 L64.39,230.26 L64.99,229.53 L65.60,228.81 L66.21,228.10 L66.82,227.40 L67.43,226.71 L68.04,226.04 L68.65,225.37 L69.26,224.72 L69.87,224.08 L70.48,223.45 L71.09,222.83 L71.70,222.21 L72.31,221.61 L72.92,221.02 L73.53,220.44 L74.14,219.87 L74.75,219.30 L75.36,218.75 L75.97,218.21 L76.58,217.67 L77.19,217.14 L77.80,216.63 L78.41,216.12 L79.02,215.62 L79.63,215.13 L80.24,214.64 L80.85,214.17 L81.46,213.70 L82.07,213.24 L82.68,212.79 L83.29,212.34 L83.90,211.90 L84.51,211.47 L85.12,211.05 L85.73,210.64 L86.34,210.23 L86.95,209.83 L87.56,209.43 L88.17,209.04 L88.78,208.66 L89.39,208.29 L90.00,207.92 L90.61,207.56 L91.22,207.20 L91.83,206.85 L92.44,206.51 L93.05,206.17 L93.66,205.84 L94.26,205.51 L94.87,205.19 L95.48,204.87 L96.09,204.56 L96.70,204.26 L97.31,203.96 L97.92,203.66 L98.53,203.37 L99.14,203.09 L99.75,202.81 L100.36,202.53 L100.97,202.26 L101.58,202.00 L102.19,201.74 L102.80,201.48 L103.41,201.23 L104.02,200.98 L104.63,200.74 L105.24,200.50 L105.85,200.26 L106.46,200.03 L107.07,199.80 L107.68,199.58 L108.29,199.36 L108.90,199.14 L109.51,198.93 L110.12,198.72 L110.73,198.52 L111.34,198.32 L111.95,198.12 L112.56,197.92 L113.17,197.73 L113.78,197.55 L114.39,197.36 L115.00,197.18 L115.61,197.00 L116.22,196.83 L116.83,196.65 L117.44,196.48 L118.05,196.32 L118.66,196.15 L119.27,195.99 L119.88,195.83 L120.49,195.68 L121.10,195.53 L121.71,195.38 L122.32,195.23 L122.93,195.08 L123.53,194.94 L124.14,194.80 L124.75,194.66 L125.36,194.53 L125.97,194.40 L126.58,194.26 L127.19,194.14 L127.80,194.01 L128.41,193.89 L129.02,193.76 L129.63,193.64 L130.24,193.53 L130.85,193.41 L131.46,193.30 L132.07,193.18 L132.68,193.07 L133.29,192.97 L133.90,192.86 L134.51,192.75 L135.12,192.65 L135.73,192.55 L136.34,192.45 L136.95,192.35 L137.56,192.26 L138.17,192.16 L138.78,192.07 L139.39,191.98 L140.00,191.89 L140.61,191.80 L141.22,191.71 L141.83,191.63 L142.44,191.55 L143.05,191.46 L143.66,191.38 L144.27,191.30 L144.88,191.22 L145.49,191.15 L146.10,191.07 L146.71,191.00 L147.32,190.92 L147.93,190.85 L148.54,190.78 L149.15,190.71 L149.76,190.64 L150.37,190.57 L150.98,190.51 L151.59,190.44 L152.20,190.38 L152.80,190.32 L153.41,190.25 L154.02,190.19 L154.63,190.13 L155.24,190.07 L155.85,190.02 L156.46,189.96 L157.07,189.90 L157.68,189.85 L158.29,189.79 L158.90,189.74 L159.51,189.69 L160.12,189.63 L160.73,189.58 L161.34,189.53 L161.95,189.48 L162.56,189.44 L163.17,189.39 L163.78,189.34 L164.39,189.30 L165.00,189.25 L165.61,189.20 L166.22,189.16 L166.83,189.12 L167.44,189.07 L168.05,189.03 L168.66,188.99 L169.27,188.95 L169.88,188.91 L170.49,188.87 L171.10,188.83 L171.71,188.79 L172.32,188.76 L172.93,188.72 L173.54,188.68 L174.15,188.65 L174.76,188.61 L175.37,188.58 L175.98,188.54 L176.59,188.51 L177.20,188.48 L177.81,188.44 L178.42,188.41 L179.03,188.38 L179.64,188.35 L180.25,188.32 L180.86,188.29 L181.47,188.26 L182.07,188.23 L182.68,188.20 L183.29,188.17 L183.90,188.14 L184.51,188.11 L185.12,188.09 L185.73,188.06 L186.34,188.03 L186.95,188.01 L187.56,187.98 L188.17,187.95 L188.78,187.93 L189.39,187.90 L190.00,187.88 L190.61,187.86 L191.22,187.83 L191.83,187.81 L192.44,187.79 L193.05,187.76 L193.66,187.74 L194.27,187.72 L194.88,187.70 L195.49,187.67 L196.10,187.65 L196.71,187.63 L197.32,187.61 L197.93,187.59 L198.54,187.57 L199.15,187.55 L199.76,187.53 L200.37,187.51 L200.98,187.49 L201.59,187.47 L202.20,187.45 L202.81,187.43 L203.42,187.42 L204.03,187.40 L204.64,187.38 L205.25,187.36 L205.86,187.35 L206.47,187.33 L207.08,187.31 L207.69,187.29 L208.30,187.28 L208.91,187.26 L209.52,187.24 L210.13,187.23 L210.74,187.21 L211.34,187.20 L211.95,187.18 L212.56,187.17 L213.17,187.15 L213.78,187.14 L214.39,187.12 L215.00,187.11 L215.61,187.09 L216.22,187.08 L216.83,187.06 L217.44,187.05 L218.05,187.03 L218.66,187.02 L219.27,187.01 L219.88,186.99 L220.49,186.98 L221.10,186.97 L221.71,186.95 L222.32,186.94 L222.93,186.93 L223.54,186.91 L224.15,186.90 L224.76,186.89 L225.37,186.88 L225.98,186.86 L226.59,186.85 L227.20,186.84 L227.81,186.83 L228.42,186.81 L229.03,186.80 L229.64,186.79 L230.25,186.78 L230.86,186.77 L231.47,186.76 L232.08,186.74 L232.69,186.73 L233.30,186.72 L233.91,186.71 L234.52,186.70 L235.13,186.69 L235.74,186.68 L236.35,186.67 L236.96,186.65 L237.57,186.64 L238.18,186.63 L238.79,186.62 L239.40,186.61 L240.01,186.60 L240.61,186.59 L241.22,186.58 L241.83,186.57 L242.44,186.56 L243.05,186.55 L243.66,186.54 L244.27,186.53 L244.88,186.52 L245.49,186.51 L246.10,186.50 L246.71,186.49 L247.32,186.48 L247.93,186.47 L248.54,186.46 L249.15,186.45 L249.76,186.44 L250.37,186.43 L250.98,186.42 L251.59,186.41 L252.20,186.40 L252.81,186.39 L253.42,186.38 L254.03,186.37 L254.64,186.36 L255.25,186.35 L255.86,186.34 L256.47,186.33 L257.08,186.33 L257.69,186.32 L258.30,186.31 L258.91,186.30 L259.52,186.29 L260.13,186.28 L260.74,186.27 L261.35,186.26 L261.96,186.25 L262.57,186.24 L263.18,186.23 L263.79,186.23 L264.40,186.22 L265.01,186.21 L265.62,186.20 L266.23,186.19 L266.84,186.18 L267.45,186.17 L268.06,186.16 L268.54,186.16" stroke="#C56E1A"/>
<path d="M23.59,299.57 L24.14,297.66 L24.75,295.62 L25.36,293.64 L25.97,291.73 L26.58,289.87 L27.19,288.06 L27.80,286.29 L28.41,284.57 L29.02,282.88 L29.63,281.23 L30.24,279.61 L30.85,278.02 L31.46,276.46 L32.07,274.92 L32.68,273.42 L33.29,271.93 L33.90,270.47 L34.51,269.03 L35.12,267.61 L35.72,266.21 L36.33,264.83 L36.94,263.47 L37.55,262.13 L38.16,260.81 L38.77,259.51 L39.38,258.23 L39.99,256.97 L40.60,255.72 L41.21,254.49 L41.82,253.28 L42.43,252.09 L43.04,250.91 L43.65,249.76 L44.26,248.62 L44.87,247.49 L45.48,246.39 L46.09,245.30 L46.70,244.22 L47.31,243.17 L47.92,242.13 L48.53,241.11 L49.14,240.10 L49.75,239.11 L50.36,238.13 L50.97,237.17 L51.58,236.23 L52.19,235.30 L52.80,234.39 L53.41,233.49 L54.02,232.61 L54.63,231.74 L55.24,230.89 L55.85,230.05 L56.46,229.23 L57.07,228.42 L57.68,227.62 L58.29,226.84 L58.90,226.07 L59.51,225.32 L60.12,224.58 L60.73,223.85 L61.34,223.13 L61.95,222.43 L62.56,221.73 L63.17,221.06 L63.78,220.39 L64.39,219.73 L64.99,219.09 L65.60,218.46 L66.21,217.84 L66.82,217.23 L67.43,216.63 L68.04,216.04 L68.65,215.46 L69.26,214.90 L69.87,214.34 L70.48,213.79 L71.09,213.26 L71.70,212.73 L72.31,212.21 L72.92,211.70 L73.53,211.20 L74.14,210.71 L74.75,210.23 L75.36,209.76 L75.97,209.29 L76.58,208.84 L77.19,208.39 L77.80,207.95 L78.41,207.52 L79.02,207.10 L79.63,206.68 L80.24,206.27 L80.85,205.87 L81.46,205.48 L82.07,205.09 L82.68,204.71 L83.29,204.34 L83.90,203.97 L84.51,203.61 L85.12,203.26 L85.73,202.91 L86.34,202.57 L86.95,202.23 L87.56,201.91 L88.17,201.58 L88.78,201.27 L89.39,200.95 L90.00,200.65 L90.61,200.35 L91.22,200.05 L91.83,199.76 L92.44,199.48 L93.05,199.20 L93.66,198.92 L94.26,198.65 L94.87,198.39 L95.48,198.13 L96.09,197.87 L96.70,197.62 L97.31,197.37 L97.92,197.13 L98.53,196.89 L99.14,196.66 L99.75,196.43 L100.36,196.20 L100.97,195.98 L101.58,195.76 L102.19,195.55 L102.80,195.34 L103.41,195.13 L104.02,194.93 L104.63,194.73 L105.24,194.53 L105.85,194.34 L106.46,194.15 L107.07,193.96 L107.68,193.78 L108.29,193.60 L108.90,193.42 L109.51,193.25 L110.12,193.08 L110.73,192.91 L111.34,192.74 L111.95,192.58 L112.56,192.42 L113.17,192.26 L113.78,192.11 L114.39,191.96 L115.00,191.81 L115.61,191.66 L116.22,191.52 L116.83,191.38 L117.44,191.24 L118.05,191.10 L118.66,190.96 L119.27,190.83 L119.88,190.70 L120.49,190.57 L121.10,190.45 L121.71,190.32 L122.32,190.20 L122.93,190.08 L123.53,189.96 L124.14,189.85 L124.75,189.73 L125.36,189.62 L125.97,189.51 L126.58,189.40 L127.19,189.30 L127.80,189.19 L128.41,189.09 L129.02,188.99 L129.63,188.89 L130.24,188.79 L130.85,188.69 L131.46,188.60 L132.07,188.50 L132.68,188.41 L133.29,188.32 L133.90,188.23 L134.51,188.14 L135.12,188.06 L135.73,187.97 L136.34,187.89 L136.95,187.81 L137.56,187.73 L138.17,187.65 L138.78,187.57 L139.39,187.49 L140.00,187.42 L140.61,187.34 L141.22,187.27 L141.83,187.19 L142.44,187.12 L143.05,187.05 L143.66,186.98 L144.27,186.92 L144.88,186.85 L145.49,186.78 L146.10,186.72 L146.71,186.66 L147.32,186.59 L147.93,186.53 L148.54,186.47 L149.15,186.41 L149.76,186.35 L150.37,186.29 L150.98,186.24 L151.59,186.18 L152.20,186.13 L152.80,186.07 L153.41,186.02 L154.02,185.96 L154.63,185.91 L155.24,185.86 L155.85,185.81 L156.46,185.76 L157.07,185.71 L157.68,185.66 L158.29,185.62 L158.90,185.57 L159.51,185.52 L160.12,185.48 L160.73,185.43 L161.34,185.39 L161.95,185.35 L162.56,185.30 L163.17,185.26 L163.78,185.22 L164.39,185.18 L165.00,185.14 L165.61,185.10 L166.22,185.06 L166.83,185.02 L167.44,184.98 L168.05,184.95 L168.66,184.91 L169.27,184.87 L169.88,184.84 L170.49,184.80 L171.10,184.77 L171.71,184.73 L172.32,184.70 L172.93,184.67 L173.54,184.63 L174.15,184.60 L174.76,184.57 L175.37,184.54 L175.98,184.51 L176.59,184.48 L177.20,184.45 L177.81,184.42 L178.42,184.39 L179.03,184.36 L179.64,184.33 L180.25,184.30 L180.86,184.28 L181.47,184.25 L182.07,184.22 L182.68,184.20 L183.29,184.17 L183.90,184.15 L184.51,184.12 L185.12,184.09 L185.73,184.07 L186.34,184.05 L186.95,184.02 L187.56,184.00 L188.17,183.98 L188.78,183.95 L189.39,183.93 L190.00,183.91 L190.61,183.89 L191.22,183.86 L191.83,183.84 L192.44,183.82 L193.05,183.80 L193.66,183.78 L194.27,183.76 L194.88,183.74 L195.49,183.72 L196.10,183.70 L196.71,183.68 L197.32,183.66 L197.93,183.65 L198.54,183.63 L199.15,183.61 L199.76,183.59 L200.37,183.57 L200.98,183.56 L201.59,183.54 L202.20,183.52 L202.81,183.50 L203.42,183.49 L204.03,183.47 L204.64,183.46 L205.25,183.44 L205.86,183.42 L206.47,183.41 L207.08,183.39 L207.69,183.38 L208.30,183.36 L208.91,183.35 L209.52,183.33 L210.13,183.32 L210.74,183.31 L211.34,183.29 L211.95,183.28 L212.56,183.27 L213.17,183.25 L213.78,183.24 L214.39,183.23 L215.00,183.21 L215.61,183.20 L216.22,183.19 L216.83,183.17 L217.44,183.16 L218.05,183.15 L218.66,183.14 L219.27,183.13 L219.88,183.12 L220.49,183.10 L221.10,183.09 L221.71,183.08 L222.32,183.07 L222.93,183.06 L223.54,183.05 L224.15,183.04 L224.76,183.03 L225.37,183.02 L225.98,183.01 L226.59,183.00 L227.20,182.99 L227.81,182.98 L228.42,182.97 L229.03,182.96 L229.64,182.95 L230.25,182.94 L230.86,182.93 L231.47,182.92 L232.08,182.91 L232.69,182.90 L233.30,182.89 L233.91,182.88 L234.52,182.87 L235.13,182.87 L235.74,182.86 L236.35,182.85 L236.96,182.84 L237.57,182.83 L238.18,182.82 L238.79,182.82 L239.40,182.81 L240.01,182.80 L240.61,182.79 L241.22,182.78 L241.83,182.78 L242.44,182.77 L243.05,182.76 L243.66,182.75 L244.27,182.75 L244.88,182.74 L245.49,182.73 L246.10,182.72 L246.71,182.72 L247.32,182.71 L247.93,182.70 L248.54,182.70 L249.15,182.69 L249.76,182.68 L250.37,182.68 L250.98,182.67 L251.59,182.66 L252.20,182.66 L252.81,182.65 L253.42,182.65 L254.03,182.64 L254.64,182.63 L255.25,182.63 L255.86,182.62 L256.47,182.62 L257.08,182.61 L257.69,182.60 L258.30,182.60 L258.91,182.59 L259.52,182.59 L260.13,182.58 L260.74,182.58 L261.35,182.57 L261.96,182.56 L262.57,182.56 L263.18,182.55 L263.79,182.55 L264.40,182.54 L265.01,182.54 L265.62,182.53 L266.23,182.53 L266.84,182.52 L267.45,182.52 L268.06,182.51 L268.54,182.51" stroke="#5D9EC7"/>
<path d="M23.59,270.35 L24.14,268.35 L24.75,266.25 L25.36,264.26 L25.97,262.37 L26.58,260.57 L27.19,258.85 L27.80,257.20 L28.41,255.62 L29.02,254.11 L29.63,252.64 L30.24,251.22 L30.85,249.85 L31.46,248.52 L32.07,247.23 L32.68,245.97 L33.29,244.74 L33.90,243.54 L34.51,242.37 L35.12,241.23 L35.72,240.11 L36.33,239.02 L36.94,237.94 L37.55,236.89 L38.16,235.86 L38.77,234.85 L39.38,233.85 L39.99,232.88 L40.60,231.92 L41.21,230.98 L41.82,230.06 L42.43,229.15 L43.04,228.26 L43.65,227.38 L44.26,226.52 L44.87,225.68 L45.48,224.85 L46.09,224.03 L46.70,223.23 L47.31,222.45 L47.92,221.67 L48.53,220.91 L49.14,220.17 L49.75,219.44 L50.36,218.72 L50.97,218.01 L51.58,217.32 L52.19,216.64 L52.80,215.97 L53.41,215.31 L54.02,214.67 L54.63,214.04 L55.24,213.42 L55.85,212.81 L56.46,212.21 L57.07,211.63 L57.68,211.05 L58.29,210.49 L58.90,209.94 L59.51,209.40 L60.12,208.87 L60.73,208.34 L61.34,207.83 L61.95,207.33 L62.56,206.84 L63.17,206.36 L63.78,205.89 L64.39,205.42 L64.99,204.97 L65.60,204.53 L66.21,204.09 L66.82,203.66 L67.43,203.24 L68.04,202.83 L68.65,202.43 L69.26,202.04 L69.87,201.65 L70.48,201.27 L71.09,200.90 L71.70,200.54 L72.31,200.18 L72.92,199.84 L73.53,199.49 L74.14,199.16 L74.75,198.83 L75.36,198.51 L75.97,198.19 L76.58,197.89 L77.19,197.58 L77.80,197.29 L78.41,197.00 L79.02,196.71 L79.63,196.44 L80.24,196.16 L80.85,195.90 L81.46,195.63 L82.07,195.38 L82.68,195.13 L83.29,194.88 L83.90,194.64 L84.51,194.40 L85.12,194.17 L85.73,193.95 L86.34,193.72 L86.95,193.51 L87.56,193.29 L88.17,193.09 L88.78,192.88 L89.39,192.68 L90.00,192.48 L90.61,192.29 L91.22,192.10 L91.83,191.92 L92.44,191.74 L93.05,191.56 L93.66,191.39 L94.26,191.22 L94.87,191.05 L95.48,190.89 L96.09,190.73 L96.70,190.57 L97.31,190.42 L97.92,190.27 L98.53,190.12 L99.14,189.98 L99.75,189.84 L100.36,189.70 L100.97,189.56 L101.58,189.43 L102.19,189.30 L102.80,189.17 L103.41,189.05 L104.02,188.93 L104.63,188.81 L105.24,188.69 L105.85,188.57 L106.46,188.46 L107.07,188.35 L107.68,188.24 L108.29,188.14 L108.90,188.03 L109.51,187.93 L110.12,187.83 L110.73,187.73 L111.34,187.64 L111.95,187.54 L112.56,187.45 L113.17,187.36 L113.78,187.27 L114.39,187.18 L115.00,187.10 L115.61,187.02 L116.22,186.93 L116.83,186.85 L117.44,186.77 L118.05,186.70 L118.66,186.62 L119.27,186.55 L119.88,186.48 L120.49,186.41 L121.10,186.34 L121.71,186.27 L122.32,186.20 L122.93,186.13 L123.53,186.07 L124.14,186.01 L124.75,185.95 L125.36,185.88 L125.97,185.83 L126.58,185.77 L127.19,185.71 L127.80,185.65 L128.41,185.60 L129.02,185.55 L129.63,185.49 L130.24,185.44 L130.85,185.39 L131.46,185.34 L132.07,185.29 L132.68,185.24 L133.29,185.20 L133.90,185.15 L134.51,185.10 L135.12,185.06 L135.73,185.02 L136.34,184.97 L136.95,184.93 L137.56,184.89 L138.17,184.85 L138.78,184.81 L139.39,184.77 L140.00,184.74 L140.61,184.70 L141.22,184.66 L141.83,184.63 L142.44,184.59 L143.05,184.56 L143.66,184.52 L144.27,184.49 L144.88,184.46 L145.49,184.42 L146.10,184.39 L146.71,184.36 L147.32,184.33 L147.93,184.30 L148.54,184.27 L149.15,184.25 L149.76,184.22 L150.37,184.19 L150.98,184.16 L151.59,184.14 L152.20,184.11 L152.80,184.08 L153.41,184.06 L154.02,184.03 L154.63,184.01 L155.24,183.99 L155.85,183.96 L156.46,183.94 L157.07,183.92 L157.68,183.90 L158.29,183.87 L158.90,183.85 L159.51,183.83 L160.12,183.81 L160.73,183.79 L161.34,183.77 L161.95,183.75 L162.56,183.73 L163.17,183.72 L163.78,183.70 L164.39,183.68 L165.00,183.66 L165.61,183.64 L166.22,183.63 L166.83,183.61 L167.44,183.59 L168.05,183.58 L168.66,183.56 L169.27,183.55 L169.88,183.53 L170.49,183.51 L171.10,183.50 L171.71,183.49 L172.32,183.47 L172.93,183.46 L173.54,183.44 L174.15,183.43 L174.76,183.42 L175.37,183.40 L175.98,183.39 L176.59,183.38 L177.20,183.36 L177.81,183.35 L178.42,183.34 L179.03,183.33 L179.64,183.32 L180.25,183.30 L180.86,183.29 L181.47,183.28 L182.07,183.27 L182.68,183.26 L183.29,183.25 L183.90,183.24 L184.51,183.23 L185.12,183.22 L185.73,183.21 L186.34,183.20 L186.95,183.19 L187.56,183.18 L188.17,183.17 L188.78,183.16 L189.39,183.15 L190.00,183.14 L190.61,183.13 L191.22,183.12 L191.83,183.11 L192.44,183.11 L193.05,183.10 L193.66,183.09 L194.27,183.08 L194.88,183.07 L195.49,183.06 L196.10,183.06 L196.71,183.05 L197.32,183.04 L197.93,183.03 L198.54,183.03 L199.15,183.02 L199.76,183.01 L200.37,183.00 L200.98,183.00 L201.59,182.99 L202.20,182.98 L202.81,182.98 L203.42,182.97 L204.03,182.96 L204.64,182.96 L205.25,182.95 L205.86,182.94 L206.47,182.94 L207.08,182.93 L207.69,182.92 L208.30,182.92 L208.91,182.91 L209.52,182.91 L210.13,182.90 L210.74,182.89 L211.34,182.89 L211.95,182.88 L212.56,182.88 L213.17,182.87 L213.78,182.87 L214.39,182.86 L215.00,182.86 L215.61,182.85 L216.22,182.84 L216.83,182.84 L217.44,182.83 L218.05,182.83 L218.66,182.82 L219.27,182.82 L219.88,182.81 L220.49,182.81 L221.10,182.80 L221.71,182.80 L222.32,182.79 L222.93,182.79 L223.54,182.78 L224.15,182.78 L224.76,182.77 L225.37,182.77 L225.98,182.76 L226.59,182.76 L227.20,182.76 L227.81,182.75 L228.42,182.75 L229.03,182.74 L229.64,182.74 L230.25,182.73 L230.86,182.73 L231.47,182.72 L232.08,182.72 L232.69,182.72 L233.30,182.71 L233.91,182.71 L234.52,182.70 L235.13,182.70 L235.74,182.69 L236.35,182.69 L236.96,182.69 L237.57,182.68 L238.18,182.68 L238.79,182.67 L239.40,182.67 L240.01,182.67 L240.61,182.66 L241.22,182.66 L241.83,182.65 L242.44,182.65 L243.05,182.65 L243.66,182.64 L244.27,182.64 L244.88,182.63 L245.49,182.63 L246.10,182.63 L246.71,182.62 L247.32,182.62 L247.93,182.61 L248.54,182.61 L249.15,182.61 L249.76,182.60 L250.37,182.60 L250.98,182.60 L251.59,182.59 L252.20,182.59 L252.81,182.58 L253.42,182.58 L254.03,182.58 L254.64,182.57 L255.25,182.57 L255.86,182.57 L256.47,182.56 L257.08,182.56 L257.69,182.55 L258.30,182.55 L258.91,182.55 L259.52,182.54 L260.13,182.54 L260.74,182.54 L261.35,182.53 L261.96,182.53 L262.57,182.53 L263.18,182.52 L263.79,182.52 L264.40,182.51 L265.01,182.51 L265.62,182.51 L266.23,182.50 L266.84,182.50 L267.45,182.50 L268.06,182.49 L268.54,182.49" stroke="#FFBF00"/>
<path d="M23.59,210.85 L24.14,209.72 L24.75,208.51 L25.36,207.36 L25.97,206.26 L26.58,205.21 L27.19,204.20 L27.80,203.23 L28.41,202.30 L29.02,201.39 L29.63,200.53 L30.24,199.69 L30.85,198.88 L31.46,198.09 L32.07,197.33 L32.68,196.60 L33.29,195.89 L33.90,195.20 L34.51,194.54 L35.12,193.89 L35.72,193.27 L36.33,192.66 L36.94,192.07 L37.55,191.51 L38.16,190.96 L38.77,190.42 L39.38,189.91 L39.99,189.41 L40.60,188.92 L41.21,188.46 L41.82,188.01 L42.43,187.57 L43.04,187.15 L43.65,186.74 L44.26,186.35 L44.87,185.96 L45.48,185.60 L46.09,185.24 L46.70,184.90 L47.31,184.57 L47.92,184.26 L48.53,183.95 L49.14,183.66 L49.75,183.38 L50.36,183.10 L50.97,182.84 L51.58,182.59 L52.19,182.35 L52.80,182.12 L53.41,181.90 L54.02,181.68 L54.63,181.48 L55.24,181.28 L55.85,181.10 L56.46,180.92 L57.07,180.75 L57.68,180.58 L58.29,180.43 L58.90,180.28 L59.51,180.13 L60.12,180.00 L60.73,179.87 L61.34,179.75 L61.95,179.63 L62.56,179.52 L63.17,179.41 L63.78,179.31 L64.39,179.22 L64.99,179.13 L65.60,179.04 L66.21,178.96 L66.82,178.89 L67.43,178.82 L68.04,178.75 L68.65,178.69 L69.26,178.63 L69.87,178.57 L70.48,178.52 L71.09,178.47 L71.70,178.43 L72.31,178.38 L72.92,178.35 L73.53,178.31 L74.14,178.28 L74.75,178.25 L75.36,178.22 L75.97,178.19 L76.58,178.17 L77.19,178.15 L77.80,178.13 L78.41,178.12 L79.02,178.10 L79.63,178.09 L80.24,178.08 L80.85,178.07 L81.46,178.07 L82.07,178.06 L82.68,178.06 L83.29,178.05 L83.90,178.05 L84.51,178.05 L85.12,178.06 L85.73,178.06 L86.34,178.06 L86.95,178.07 L87.56,178.07 L88.17,178.08 L88.78,178.09 L89.39,178.10 L90.00,178.11 L90.61,178.12 L91.22,178.13 L91.83,178.14 L92.44,178.16 L93.05,178.17 L93.66,178.18 L94.26,178.20 L94.87,178.21 L95.48,178.23 L96.09,178.24 L96.70,178.26 L97.31,178.28 L97.92,178.29 L98.53,178.31 L99.14,178.33 L99.75,178.35 L100.36,178.36 L100.97,178.38 L101.58,178.40 L102.19,178.42 L102.80,178.44 L103.41,178.46 L104.02,178.48 L104.63,178.50 L105.24,178.52 L105.85,178.54 L106.46,178.56 L107.07,178.58 L107.68,178.59 L108.29,178.61 L108.90,178.63 L109.51,178.65 L110.12,178.67 L110.73,178.69 L111.34,178.71 L111.95,178.73 L112.56,178.75 L113.17,178.77 L113.78,178.79 L114.39,178.81 L115.00,178.83 L115.61,178.85 L116.22,178.87 L116.83,178.89 L117.44,178.91 L118.05,178.92 L118.66,178.94 L119.27,178.96 L119.88,178.98 L120.49,179.00 L121.10,179.02 L121.71,179.03 L122.32,179.05 L122.93,179.07 L123.53,179.09 L124.14,179.10 L124.75,179.12 L125.36,179.14 L125.97,179.15 L126.58,179.17 L127.19,179.19 L127.80,179.20 L128.41,179.22 L129.02,179.23 L129.63,179.25 L130.24,179.27 L130.85,179.28 L131.46,179.30 L132.07,179.31 L132.68,179.33 L133.29,179.34 L133.90,179.35 L134.51,179.37 L135.12,179.38 L135.73,179.40 L136.34,179.41 L136.95,179.42 L137.56,179.44 L138.17,179.45 L138.78,179.46 L139.39,179.48 L140.00,179.49 L140.61,179.50 L141.22,179.51 L141.83,179.52 L142.44,179.54 L143.05,179.55 L143.66,179.56 L144.27,179.57 L144.88,179.58 L145.49,179.59 L146.10,179.60 L146.71,179.61 L147.32,179.62 L147.93,179.63 L148.54,179.65 L149.15,179.65 L149.76,179.66 L150.37,179.67 L150.98,179.68 L151.59,179.69 L152.20,179.70 L152.80,179.71 L153.41,179.72 L154.02,179.73 L154.63,179.74 L155.24,179.75 L155.85,179.75 L156.46,179.76 L157.07,179.77 L157.68,179.78 L158.29,179.79 L158.90,179.79 L159.51,179.80 L160.12,179.81 L160.73,179.81 L161.34,179.82 L161.95,179.83 L162.56,179.83 L163.17,179.84 L163.78,179.85 L164.39,179.85 L165.00,179.86 L165.61,179.87 L166.22,179.87 L166.83,179.88 L167.44,179.88 L168.05,179.89 L168.66,179.89 L169.27,179.90 L169.88,179.91 L170.49,179.91 L171.10,179.92 L171.71,179.92 L172.32,179.93 L172.93,179.93 L173.54,179.93 L174.15,179.94 L174.76,179.94 L175.37,179.95 L175.98,179.95 L176.59,179.96 L177.20,179.96 L177.81,179.96 L178.42,179.97 L179.03,179.97 L179.64,179.98 L180.25,179.98 L180.86,179.98 L181.47,179.99 L182.07,179.99 L182.68,179.99 L183.29,179.99 L183.90,180.00 L184.51,180.00 L185.12,180.00 L185.73,180.01 L186.34,180.01 L186.95,180.01 L187.56,180.01 L188.17,180.02 L188.78,180.02 L189.39,180.02 L190.00,180.02 L190.61,180.03 L191.22,180.03 L191.83,180.03 L192.44,180.03 L193.05,180.03 L193.66,180.04 L194.27,180.04 L194.88,180.04 L195.49,180.04 L196.10,180.04 L196.71,180.05 L197.32,180.05 L197.93,180.05 L198.54,180.05 L199.15,180.05 L199.76,180.05 L200.37,180.05 L200.98,180.06 L201.59,180.06 L202.20,180.06 L202.81,180.06 L203.42,180.06 L204.03,180.06 L204.64,180.06 L205.25,180.06 L205.86,180.06 L206.47,180.06 L207.08,180.07 L207.69,180.07 L208.30,180.07 L208.91,180.07 L209.52,180.07 L210.13,180.07 L210.74,180.07 L211.34,180.07 L211.95,180.07 L212.56,180.07 L213.17,180.07 L213.78,180.07 L214.39,180.07 L215.00,180.07 L215.61,180.07 L216.22,180.07 L216.83,180.07 L217.44,180.07 L218.05,180.08 L218.66,180.08 L219.27,180.08 L219.88,180.08 L220.49,180.08 L221.10,180.08 L221.71,180.08 L222.32,180.08 L222.93,180.08 L223.54,180.08 L224.15,180.08 L224.76,180.08 L225.37,180.08 L225.98,180.08 L226.59,180.08 L227.20,180.08 L227.81,180.08 L228.42,180.08 L229.03,180.08 L229.64,180.08 L230.25,180.08 L230.86,180.08 L231.47,180.08 L232.08,180.08 L232.69,180.07 L233.30,180.07 L233.91,180.07 L234.52,180.07 L235.13,180.07 L235.74,180.07 L236.35,180.07 L236.96,180.07 L237.57,180.07 L238.18,180.07 L238.79,180.07 L239.40,180.07 L240.01,180.07 L240.61,180.07 L241.22,180.07 L241.83,180.07 L242.44,180.07 L243.05,180.07 L243.66,180.07 L244.27,180.07 L244.88,180.07 L245.49,180.07 L246.10,180.07 L246.71,180.07 L247.32,180.07 L247.93,180.07 L248.54,180.07 L249.15,180.07 L249.76,180.07 L250.37,180.07 L250.98,180.06 L251.59,180.06 L252.20,180.06 L252.81,180.06 L253.42,180.06 L254.03,180.06 L254.64,180.06 L255.25,180.06 L255.86,180.06 L256.47,180.06 L257.08,180.06 L257.69,180.06 L258.30,180.06 L258.91,180.06 L259.52,180.06 L260.13,180.06 L260.74,180.06 L261.35,180.06 L261.96,180.06 L262.57,180.06 L263.18,180.06 L263.79,180.06 L264.40,180.06 L265.01,180.06 L265.62,180.05 L266.23,180.05 L266.84,180.05 L267.45,180.05 L268.06,180.05 L268.54,180.05" stroke="#A5609D"/>
<path d="M23.59,180.66 L24.14,180.40 L24.75,180.12 L25.36,179.86 L25.97,179.61 L26.58,179.37 L27.19,179.14 L27.80,178.92 L28.41,178.72 L29.02,178.53 L29.63,178.34 L30.24,178.17 L30.85,178.01 L31.46,177.86 L32.07,177.71 L32.68,177.58 L33.29,177.45 L33.90,177.34 L34.51,177.23 L35.12,177.13 L35.72,177.03 L36.33,176.94 L36.94,176.86 L37.55,176.79 L38.16,176.72 L38.77,176.66 L39.38,176.60 L39.99,176.55 L40.60,176.50 L41.21,176.46 L41.82,176.43 L42.43,176.39 L43.04,176.37 L43.65,176.34 L44.26,176.32 L44.87,176.30 L45.48,176.29 L46.09,176.28 L46.70,176.27 L47.31,176.27 L47.92,176.27 L48.53,176.27 L49.14,176.27 L49.75,176.28 L50.36,176.29 L50.97,176.30 L51.58,176.31 L52.19,176.32 L52.80,176.34 L53.41,176.35 L54.02,176.37 L54.63,176.39 L55.24,176.41 L55.85,176.44 L56.46,176.46 L57.07,176.48 L57.68,176.51 L58.29,176.54 L58.90,176.56 L59.51,176.59 L60.12,176.62 L60.73,176.65 L61.34,176.68 L61.95,176.71 L62.56,176.74 L63.17,176.77 L63.78,176.80 L64.39,176.84 L64.99,176.87 L65.60,176.90 L66.21,176.94 L66.82,176.97 L67.43,177.00 L68.04,177.04 L68.65,177.07 L69.26,177.10 L69.87,177.14 L70.48,177.17 L71.09,177.21 L71.70,177.24 L72.31,177.27 L72.92,177.31 L73.53,177.34 L74.14,177.37 L74.75,177.41 L75.36,177.44 L75.97,177.47 L76.58,177.51 L77.19,177.54 L77.80,177.57 L78.41,177.61 L79.02,177.64 L79.63,177.67 L80.24,177.70 L80.85,177.73 L81.46,177.77 L82.07,177.80 L82.68,177.83 L83.29,177.86 L83.90,177.89 L84.51,177.92 L85.12,177.95 L85.73,177.98 L86.34,178.01 L86.95,178.04 L87.56,178.06 L88.17,178.09 L88.78,178.12 L89.39,178.15 L90.00,178.18 L90.61,178.20 L91.22,178.23 L91.83,178.26 L92.44,178.28 L93.05,178.31 L93.66,178.33 L94.26,178.36 L94.87,178.39 L95.48,178.41 L96.09,178.43 L96.70,178.46 L97.31,178.48 L97.92,178.51 L98.53,178.53 L99.14,178.55 L99.75,178.57 L100.36,178.60 L100.97,178.62 L101.58,178.64 L102.19,178.66 L102.80,178.68 L103.41,178.70 L104.02,178.72 L104.63,178.75 L105.24,178.77 L105.85,178.78 L106.46,178.80 L107.07,178.82 L107.68,178.84 L108.29,178.86 L108.90,178.88 L109.51,178.90 L110.12,178.92 L110.73,178.93 L111.34,178.95 L111.95,178.97 L112.56,178.98 L113.17,179.00 L113.78,179.02 L114.39,179.03 L115.00,179.05 L115.61,179.06 L116.22,179.08 L116.83,179.10 L117.44,179.11 L118.05,179.13 L118.66,179.14 L119.27,179.15 L119.88,179.17 L120.49,179.18 L121.10,179.20 L121.71,179.21 L122.32,179.22 L122.93,179.23 L123.53,179.25 L124.14,179.26 L124.75,179.27 L125.36,179.28 L125.97,179.30 L126.58,179.31 L127.19,179.32 L127.80,179.33 L128.41,179.34 L129.02,179.35 L129.63,179.37 L130.24,179.38 L130.85,179.39 L131.46,179.40 L132.07,179.41 L132.68,179.42 L133.29,179.43 L133.90,179.44 L134.51,179.45 L135.12,179.46 L135.73,179.47 L136.34,179.47 L136.95,179.48 L137.56,179.49 L138.17,179.50 L138.78,179.51 L139.39,179.52 L140.00,179.53 L140.61,179.53 L141.22,179.54 L141.83,179.55 L142.44,179.56 L143.05,179.57 L143.66,179.57 L144.27,179.58 L144.88,179.59 L145.49,179.60 L146.10,179.60 L146.71,179.61 L147.32,179.62 L147.93,179.62 L148.54,179.63 L149.15,179.64 L149.76,179.64 L150.37,179.65 L150.98,179.66 L151.59,179.66 L152.20,179.67 L152.80,179.67 L153.41,179.68 L154.02,179.69 L154.63,179.69 L155.24,179.70 L155.85,179.70 L156.46,179.71 L157.07,179.71 L157.68,179.72 L158.29,179.72 L158.90,179.73 L159.51,179.73 L160.12,179.74 L160.73,179.74 L161.34,179.75 L161.95,179.75 L162.56,179.76 L163.17,179.76 L163.78,179.77 L164.39,179.77 L165.00,179.78 L165.61,179.78 L166.22,179.78 L166.83,179.79 L167.44,179.79 L168.05,179.80 L168.66,179.80 L169.27,179.80 L169.88,179.81 L170.49,179.81 L171.10,179.82 L171.71,179.82 L172.32,179.82 L172.93,179.83 L173.54,179.83 L174.15,179.83 L174.76,179.84 L175.37,179.84 L175.98,179.84 L176.59,179.85 L177.20,179.85 L177.81,179.85 L178.42,179.86 L179.03,179.86 L179.64,179.86 L180.25,179.87 L180.86,179.87 L181.47,179.87 L182.07,179.88 L182.68,179.88 L183.29,179.88 L183.90,179.88 L184.51,179.89 L185.12,179.89 L185.73,179.89 L186.34,179.89 L186.95,179.90 L187.56,179.90 L188.17,179.90 L188.78,179.91 L189.39,179.91 L190.00,179.91 L190.61,179.91 L191.22,179.92 L191.83,179.92 L192.44,179.92 L193.05,179.92 L193.66,179.92 L194.27,179.93 L194.88,179.93 L195.49,179.93 L196.10,179.93 L196.71,179.94 L197.32,179.94 L197.93,179.94 L198.54,179.94 L199.15,179.95 L199.76,179.95 L200.37,179.95 L200.98,179.95 L201.59,179.95 L202.20,179.96 L202.81,179.96 L203.42,179.96 L204.03,179.96 L204.64,179.96 L205.25,179.97 L205.86,179.97 L206.47,179.97 L207.08,179.97 L207.69,179.97 L208.30,179.98 L208.91,179.98 L209.52,179.98 L210.13,179.98 L210.74,179.98 L211.34,179.98 L211.95,179.99 L212.56,179.99 L213.17,179.99 L213.78,179.99 L214.39,179.99 L215.00,180.00 L215.61,180.00 L216.22,180.00 L216.83,180.00 L217.44,180.00 L218.05,180.00 L218.66,180.01 L219.27,180.01 L219.88,180.01 L220.49,180.01 L221.10,180.01 L221.71,180.01 L222.32,180.02 L222.93,180.02 L223.54,180.02 L224.15,180.02 L224.76,180.02 L225.37,180.02 L225.98,180.03 L226.59,180.03 L227.20,180.03 L227.81,180.03 L228.42,180.03 L229.03,180.03 L229.64,180.04 L230.25,180.04 L230.86,180.04 L231.47,180.04 L232.08,180.04 L232.69,180.04 L233.30,180.04 L233.91,180.05 L234.52,180.05 L235.13,180.05 L235.74,180.05 L236.35,180.05 L236.96,180.05 L237.57,180.06 L238.18,180.06 L238.79,180.06 L239.40,180.06 L240.01,180.06 L240.61,180.06 L241.22,180.07 L241.83,180.07 L242.44,180.07 L243.05,180.07 L243.66,180.07 L244.27,180.07 L244.88,180.07 L245.49,180.08 L246.10,180.08 L246.71,180.08 L247.32,180.08 L247.93,180.08 L248.54,180.08 L249.15,180.09 L249.76,180.09 L250.37,180.09 L250.98,180.09 L251.59,180.09 L252.20,180.09 L252.81,180.09 L253.42,180.10 L254.03,180.10 L254.64,180.10 L255.25,180.10 L255.86,180.10 L256.47,180.10 L257.08,180.11 L257.69,180.11 L258.30,180.11 L258.91,180.11 L259.52,180.11 L260.13,180.11 L260.74,180.11 L261.35,180.12 L261.96,180.12 L262.57,180.12 L263.18,180.12 L263.79,180.12 L264.40,180.12 L265.01,180.13 L265.62,180.13 L266.23,180.13 L266.84,180.13 L267.45,180.13 L268.06,180.13 L268.54,180.14" stroke="#929600"/>
<path d="M23.59,151.47 L24.14,151.08 L24.75,150.70 L25.36,150.36 L25.97,150.08 L26.58,149.83 L27.19,149.63 L27.80,149.45 L28.41,149.31 L29.02,149.19 L29.63,149.10 L30.24,149.03 L30.85,148.99 L31.46,148.96 L32.07,148.95 L32.68,148.96 L33.29,148.99 L33.90,149.02 L34.51,149.07 L35.12,149.14 L35.72,149.22 L36.33,149.30 L36.94,149.40 L37.55,149.51 L38.16,149.62 L38.77,149.75 L39.38,149.88 L39.99,150.02 L40.60,150.17 L41.21,150.33 L41.82,150.49 L42.43,150.65 L43.04,150.83 L43.65,151.01 L44.26,151.19 L44.87,151.38 L45.48,151.57 L46.09,151.77 L46.70,151.97 L47.31,152.18 L47.92,152.39 L48.53,152.60 L49.14,152.82 L49.75,153.04 L50.36,153.26 L50.97,153.48 L51.58,153.71 L52.19,153.94 L52.80,154.17 L53.41,154.40 L54.02,154.64 L54.63,154.87 L55.24,155.11 L55.85,155.35 L56.46,155.58 L57.07,155.82 L57.68,156.06 L58.29,156.31 L58.90,156.55 L59.51,156.79 L60.12,157.03 L60.73,157.27 L61.34,157.51 L61.95,157.75 L62.56,158.00 L63.17,158.24 L63.78,158.48 L64.39,158.72 L64.99,158.96 L65.60,159.19 L66.21,159.43 L66.82,159.67 L67.43,159.90 L68.04,160.14 L68.65,160.37 L69.26,160.61 L69.87,160.84 L70.48,161.07 L71.09,161.30 L71.70,161.52 L72.31,161.75 L72.92,161.97 L73.53,162.20 L74.14,162.42 L74.75,162.64 L75.36,162.86 L75.97,163.07 L76.58,163.29 L77.19,163.50 L77.80,163.71 L78.41,163.92 L79.02,164.13 L79.63,164.34 L80.24,164.54 L80.85,164.75 L81.46,164.95 L82.07,165.15 L82.68,165.34 L83.29,165.54 L83.90,165.73 L84.51,165.92 L85.12,166.11 L85.73,166.30 L86.34,166.49 L86.95,166.67 L87.56,166.85 L88.17,167.03 L88.78,167.21 L89.39,167.39 L90.00,167.56 L90.61,167.74 L91.22,167.91 L91.83,168.08 L92.44,168.24 L93.05,168.41 L93.66,168.57 L94.26,168.73 L94.87,168.89 L95.48,169.05 L96.09,169.21 L96.70,169.36 L97.31,169.51 L97.92,169.66 L98.53,169.81 L99.14,169.96 L99.75,170.10 L100.36,170.25 L100.97,170.39 L101.58,170.53 L102.19,170.67 L102.80,170.80 L103.41,170.94 L104.02,171.07 L104.63,171.20 L105.24,171.33 L105.85,171.46 L106.46,171.59 L107.07,171.71 L107.68,171.83 L108.29,171.96 L108.90,172.08 L109.51,172.19 L110.12,172.31 L110.73,172.43 L111.34,172.54 L111.95,172.65 L112.56,172.76 L113.17,172.87 L113.78,172.98 L114.39,173.09 L115.00,173.19 L115.61,173.30 L116.22,173.40 L116.83,173.50 L117.44,173.60 L118.05,173.70 L118.66,173.80 L119.27,173.89 L119.88,173.99 L120.49,174.08 L121.10,174.17 L121.71,174.26 L122.32,174.35 L122.93,174.44 L123.53,174.53 L124.14,174.61 L124.75,174.70 L125.36,174.78 L125.97,174.86 L126.58,174.95 L127.19,175.03 L127.80,175.10 L128.41,175.18 L129.02,175.26 L129.63,175.34 L130.24,175.41 L130.85,175.48 L131.46,175.56 L132.07,175.63 L132.68,175.70 L133.29,175.77 L133.90,175.84 L134.51,175.90 L135.12,175.97 L135.73,176.04 L136.34,176.10 L136.95,176.17 L137.56,176.23 L138.17,176.29 L138.78,176.35 L139.39,176.41 L140.00,176.47 L140.61,176.53 L141.22,176.59 L141.83,176.64 L142.44,176.70 L143.05,176.76 L143.66,176.81 L144.27,176.86 L144.88,176.92 L145.49,176.97 L146.10,177.02 L146.71,177.07 L147.32,177.12 L147.93,177.17 L148.54,177.22 L149.15,177.27 L149.76,177.31 L150.37,177.36 L150.98,177.41 L151.59,177.45 L152.20,177.50 L152.80,177.54 L153.41,177.58 L154.02,177.62 L154.63,177.67 L155.24,177.71 L155.85,177.75 L156.46,177.79 L157.07,177.83 L157.68,177.87 L158.29,177.90 L158.90,177.94 L159.51,177.98 L160.12,178.02 L160.73,178.05 L161.34,178.09 L161.95,178.12 L162.56,178.16 L163.17,178.19 L163.78,178.22 L164.39,178.26 L165.00,178.29 L165.61,178.32 L166.22,178.35 L166.83,178.38 L167.44,178.41 L168.05,178.44 L168.66,178.47 L169.27,178.50 L169.88,178.53 L170.49,178.56 L171.10,178.59 L171.71,178.61 L172.32,178.64 L172.93,178.67 L173.54,178.69 L174.15,178.72 L174.76,178.74 L175.37,178.77 L175.98,178.79 L176.59,178.82 L177.20,178.84 L177.81,178.87 L178.42,178.89 L179.03,178.91 L179.64,178.93 L180.25,178.96 L180.86,178.98 L181.47,179.00 L182.07,179.02 L182.68,179.04 L183.29,179.06 L183.90,179.08 L184.51,179.10 L185.12,179.12 L185.73,179.14 L186.34,179.16 L186.95,179.17 L187.56,179.19 L188.17,179.21 L188.78,179.23 L189.39,179.25 L190.00,179.26 L190.61,179.28 L191.22,179.30 L191.83,179.31 L192.44,179.33 L193.05,179.34 L193.66,179.36 L194.27,179.37 L194.88,179.39 L195.49,179.40 L196.10,179.42 L196.71,179.43 L197.32,179.44 L197.93,179.46 L198.54,179.47 L199.15,179.49 L199.76,179.50 L200.37,179.51 L200.98,179.52 L201.59,179.54 L202.20,179.55 L202.81,179.56 L203.42,179.57 L204.03,179.58 L204.64,179.59 L205.25,179.61 L205.86,179.62 L206.47,179.63 L207.08,179.64 L207.69,179.65 L208.30,179.66 L208.91,179.67 L209.52,179.68 L210.13,179.69 L210.74,179.70 L211.34,179.71 L211.95,179.72 L212.56,179.72 L213.17,179.73 L213.78,179.74 L214.39,179.75 L215.00,179.76 L215.61,179.77 L216.22,179.77 L216.83,179.78 L217.44,179.79 L218.05,179.80 L218.66,179.81 L219.27,179.81 L219.88,179.82 L220.49,179.83 L221.10,179.83 L221.71,179.84 L222.32,179.85 L222.93,179.85 L223.54,179.86 L224.15,179.87 L224.76,179.87 L225.37,179.88 L225.98,179.88 L226.59,179.89 L227.20,179.90 L227.81,179.90 L228.42,179.91 L229.03,179.91 L229.64,179.92 L230.25,179.92 L230.86,179.93 L231.47,179.93 L232.08,179.94 L232.69,179.94 L233.30,179.95 L233.91,179.95 L234.52,179.95 L235.13,179.96 L235.74,179.96 L236.35,179.97 L236.96,179.97 L237.57,179.98 L238.18,179.98 L238.79,179.98 L239.40,179.99 L240.01,179.99 L240.61,179.99 L241.22,180.00 L241.83,180.00 L242.44,180.00 L243.05,180.01 L243.66,180.01 L244.27,180.01 L244.88,180.02 L245.49,180.02 L246.10,180.02 L246.71,180.02 L247.32,180.03 L247.93,180.03 L248.54,180.03 L249.15,180.04 L249.76,180.04 L250.37,180.04 L250.98,180.04 L251.59,180.04 L252.20,180.05 L252.81,180.05 L253.42,180.05 L254.03,180.05 L254.64,180.05 L255.25,180.06 L255.86,180.06 L256.47,180.06 L257.08,180.06 L257.69,180.06 L258.30,180.07 L258.91,180.07 L259.52,180.07 L260.13,180.07 L260.74,180.07 L261.35,180.07 L261.96,180.07 L262.57,180.08 L263.18,180.08 L263.79,180.08 L264.40,180.08 L265.01,180.08 L265.62,180.08 L266.23,180.08 L266.84,180.08 L267.45,180.08 L268.06,180.08 L268.54,180.09" stroke="#E95536"/>
<path d="M23.59,121.66 L24.14,121.77 L24.75,121.90 L25.36,122.07 L25.97,122.25 L26.58,122.46 L27.19,122.69 L27.80,122.94 L28.41,123.21 L29.02,123.50 L29.63,123.80 L30.24,124.11 L30.85,124.44 L31.46,124.78 L32.07,125.14 L32.68,125.50 L33.29,125.88 L33.90,126.27 L34.51,126.66 L35.12,127.07 L35.72,127.48 L36.33,127.90 L36.94,128.32 L37.55,128.75 L38.16,129.19 L38.77,129.63 L39.38,130.08 L39.99,130.53 L40.60,130.99 L41.21,131.45 L41.82,131.91 L42.43,132.37 L43.04,132.84 L43.65,133.31 L44.26,133.78 L44.87,134.25 L45.48,134.72 L46.09,135.19 L46.70,135.67 L47.31,136.14 L47.92,136.62 L48.53,137.09 L49.14,137.56 L49.75,138.03 L50.36,138.50 L50.97,138.97 L51.58,139.44 L52.19,139.91 L52.80,140.38 L53.41,140.84 L54.02,141.30 L54.63,141.76 L55.24,142.22 L55.85,142.67 L56.46,143.12 L57.07,143.57 L57.68,144.02 L58.29,144.46 L58.90,144.91 L59.51,145.34 L60.12,145.78 L60.73,146.21 L61.34,146.64 L61.95,147.06 L62.56,147.48 L63.17,147.90 L63.78,148.32 L64.39,148.73 L64.99,149.14 L65.60,149.54 L66.21,149.94 L66.82,150.34 L67.43,150.73 L68.04,151.12 L68.65,151.51 L69.26,151.89 L69.87,152.27 L70.48,152.64 L71.09,153.01 L71.70,153.38 L72.31,153.74 L72.92,154.10 L73.53,154.45 L74.14,154.80 L74.75,155.15 L75.36,155.49 L75.97,155.83 L76.58,156.17 L77.19,156.50 L77.80,156.83 L78.41,157.16 L79.02,157.48 L79.63,157.79 L80.24,158.11 L80.85,158.42 L81.46,158.72 L82.07,159.03 L82.68,159.32 L83.29,159.62 L83.90,159.91 L84.51,160.20 L85.12,160.48 L85.73,160.77 L86.34,161.04 L86.95,161.32 L87.56,161.59 L88.17,161.85 L88.78,162.12 L89.39,162.38 L90.00,162.64 L90.61,162.89 L91.22,163.14 L91.83,163.39 L92.44,163.63 L93.05,163.87 L93.66,164.11 L94.26,164.35 L94.87,164.58 L95.48,164.81 L96.09,165.03 L96.70,165.26 L97.31,165.48 L97.92,165.69 L98.53,165.91 L99.14,166.12 L99.75,166.33 L100.36,166.53 L100.97,166.74 L101.58,166.94 L102.19,167.13 L102.80,167.33 L103.41,167.52 L104.02,167.71 L104.63,167.90 L105.24,168.08 L105.85,168.26 L106.46,168.44 L107.07,168.62 L107.68,168.79 L108.29,168.97 L108.90,169.14 L109.51,169.30 L110.12,169.47 L110.73,169.63 L111.34,169.79 L111.95,169.95 L112.56,170.11 L113.17,170.26 L113.78,170.41 L114.39,170.56 L115.00,170.71 L115.61,170.86 L116.22,171.00 L116.83,171.14 L117.44,171.28 L118.05,171.42 L118.66,171.55 L119.27,171.69 L119.88,171.82 L120.49,171.95 L121.10,172.08 L121.71,172.20 L122.32,172.33 L122.93,172.45 L123.53,172.57 L124.14,172.69 L124.75,172.81 L125.36,172.92 L125.97,173.04 L126.58,173.15 L127.19,173.26 L127.80,173.37 L128.41,173.48 L129.02,173.59 L129.63,173.69 L130.24,173.79 L130.85,173.90 L131.46,174.00 L132.07,174.09 L132.68,174.19 L133.29,174.29 L133.90,174.38 L134.51,174.48 L135.12,174.57 L135.73,174.66 L136.34,174.75 L136.95,174.84 L137.56,174.92 L138.17,175.01 L138.78,175.09 L139.39,175.17 L140.00,175.26 L140.61,175.34 L141.22,175.42 L141.83,175.49 L142.44,175.57 L143.05,175.65 L143.66,175.72 L144.27,175.80 L144.88,175.87 L145.49,175.94 L146.10,176.01 L146.71,176.08 L147.32,176.15 L147.93,176.22 L148.54,176.28 L149.15,176.35 L149.76,176.41 L150.37,176.48 L150.98,176.54 L151.59,176.60 L152.20,176.66 L152.80,176.72 L153.41,176.78 L154.02,176.84 L154.63,176.89 L155.24,176.95 L155.85,177.01 L156.46,177.06 L157.07,177.11 L157.68,177.17 L158.29,177.22 L158.90,177.27 L159.51,177.32 L160.12,177.37 L160.73,177.42 L161.34,177.47 L161.95,177.51 L162.56,177.56 L163.17,177.61 L163.78,177.65 L164.39,177.70 L165.00,177.74 L165.61,177.79 L166.22,177.83 L166.83,177.87 L167.44,177.91 L168.05,177.95 L168.66,177.99 L169.27,178.03 L169.88,178.07 L170.49,178.11 L171.10,178.15 L171.71,178.18 L172.32,178.22 L172.93,178.25 L173.54,178.29 L174.15,178.32 L174.76,178.36 L175.37,178.39 L175.98,178.43 L176.59,178.46 L177.20,178.49 L177.81,178.52 L178.42,178.55 L179.03,178.58 L179.64,178.61 L180.25,178.64 L180.86,178.67 L181.47,178.70 L182.07,178.73 L182.68,178.76 L183.29,178.78 L183.90,178.81 L184.51,178.84 L185.12,178.86 L185.73,178.89 L186.34,178.91 L186.95,178.94 L187.56,178.96 L188.17,178.99 L188.78,179.01 L189.39,179.03 L190.00,179.05 L190.61,179.08 L191.22,179.10 L191.83,179.12 L192.44,179.14 L193.05,179.16 L193.66,179.18 L194.27,179.20 L194.88,179.22 L195.49,179.24 L196.10,179.26 L196.71,179.28 L197.32,179.30 L197.93,179.32 L198.54,179.33 L199.15,179.35 L199.76,179.37 L200.37,179.38 L200.98,179.40 L201.59,179.42 L202.20,179.43 L202.81,179.45 L203.42,179.46 L204.03,179.48 L204.64,179.49 L205.25,179.51 L205.86,179.52 L206.47,179.54 L207.08,179.55 L207.69,179.56 L208.30,179.58 L208.91,179.59 L209.52,179.60 L210.13,179.62 L210.74,179.63 L211.34,179.64 L211.95,179.65 L212.56,179.66 L213.17,179.67 L213.78,179.68 L214.39,179.70 L215.00,179.71 L215.61,179.72 L216.22,179.73 L216.83,179.74 L217.44,179.75 L218.05,179.76 L218.66,179.77 L219.27,179.77 L219.88,179.78 L220.49,179.79 L221.10,179.80 L221.71,179.81 L222.32,179.82 L222.93,179.83 L223.54,179.83 L224.15,179.84 L224.76,179.85 L225.37,179.86 L225.98,179.86 L226.59,179.87 L227.20,179.88 L227.81,179.88 L228.42,179.89 L229.03,179.90 L229.64,179.90 L230.25,179.91 L230.86,179.91 L231.47,179.92 L232.08,179.93 L232.69,179.93 L233.30,179.94 L233.91,179.94 L234.52,179.95 L235.13,179.95 L235.74,179.96 L236.35,179.96 L236.96,179.97 L237.57,179.97 L238.18,179.97 L238.79,179.98 L239.40,179.98 L240.01,179.99 L240.61,179.99 L241.22,179.99 L241.83,180.00 L242.44,180.00 L243.05,180.00 L243.66,180.01 L244.27,180.01 L244.88,180.01 L245.49,180.02 L246.10,180.02 L246.71,180.02 L247.32,180.02 L247.93,180.03 L248.54,180.03 L249.15,180.03 L249.76,180.03 L250.37,180.04 L250.98,180.04 L251.59,180.04 L252.20,180.04 L252.81,180.04 L253.42,180.05 L254.03,180.05 L254.64,180.05 L255.25,180.05 L255.86,180.05 L256.47,180.05 L257.08,180.05 L257.69,180.05 L258.30,180.06 L258.91,180.06 L259.52,180.06 L260.13,180.06 L260.74,180.06 L261.35,180.06 L261.96,180.06 L262.57,180.06 L263.18,180.06 L263.79,180.06 L264.40,180.06 L265.01,180.06 L265.62,180.06 L266.23,180.06 L266.84,180.06 L267.45,180.06 L268.06,180.06 L268.54,180.06" stroke="#6685D9"/>
<path d="M23.59,91.81 L24.14,92.45 L24.75,93.20 L25.36,93.98 L25.97,94.79 L26.58,95.63 L27.19,96.48 L27.80,97.35 L28.41,98.23 L29.02,99.12 L29.63,100.01 L30.24,100.91 L30.85,101.80 L31.46,102.70 L32.07,103.59 L32.68,104.48 L33.29,105.37 L33.90,106.25 L34.51,107.13 L35.12,108.00 L35.72,108.86 L36.33,109.72 L36.94,110.56 L37.55,111.40 L38.16,112.24 L38.77,113.06 L39.38,113.88 L39.99,114.69 L40.60,115.49 L41.21,116.29 L41.82,117.07 L42.43,117.85 L43.04,118.62 L43.65,119.38 L44.26,120.14 L44.87,120.88 L45.48,121.62 L46.09,122.36 L46.70,123.08 L47.31,123.80 L47.92,124.51 L48.53,125.21 L49.14,125.90 L49.75,126.59 L50.36,127.27 L50.97,127.95 L51.58,128.61 L52.19,129.27 L52.80,129.93 L53.41,130.57 L54.02,131.21 L54.63,131.85 L55.24,132.47 L55.85,133.09 L56.46,133.71 L57.07,134.31 L57.68,134.91 L58.29,135.51 L58.90,136.09 L59.51,136.68 L60.12,137.25 L60.73,137.82 L61.34,138.38 L61.95,138.94 L62.56,139.49 L63.17,140.03 L63.78,140.57 L64.39,141.11 L64.99,141.63 L65.60,142.15 L66.21,142.67 L66.82,143.18 L67.43,143.68 L68.04,144.18 L68.65,144.67 L69.26,145.15 L69.87,145.63 L70.48,146.11 L71.09,146.58 L71.70,147.04 L72.31,147.50 L72.92,147.95 L73.53,148.40 L74.14,148.84 L74.75,149.28 L75.36,149.71 L75.97,150.14 L76.58,150.56 L77.19,150.97 L77.80,151.39 L78.41,151.79 L79.02,152.19 L79.63,152.59 L80.24,152.98 L80.85,153.36 L81.46,153.75 L82.07,154.12 L82.68,154.49 L83.29,154.86 L83.90,155.22 L84.51,155.58 L85.12,155.93 L85.73,156.28 L86.34,156.63 L86.95,156.97 L87.56,157.30 L88.17,157.63 L88.78,157.96 L89.39,158.28 L90.00,158.60 L90.61,158.91 L91.22,159.22 L91.83,159.53 L92.44,159.83 L93.05,160.13 L93.66,160.42 L94.26,160.71 L94.87,161.00 L95.48,161.28 L96.09,161.56 L96.70,161.83 L97.31,162.11 L97.92,162.37 L98.53,162.64 L99.14,162.90 L99.75,163.15 L100.36,163.41 L100.97,163.66 L101.58,163.90 L102.19,164.15 L102.80,164.39 L103.41,164.62 L104.02,164.86 L104.63,165.09 L105.24,165.31 L105.85,165.54 L106.46,165.76 L107.07,165.98 L107.68,166.19 L108.29,166.40 L108.90,166.61 L109.51,166.82 L110.12,167.02 L110.73,167.22 L111.34,167.42 L111.95,167.61 L112.56,167.81 L113.17,168.00 L113.78,168.18 L114.39,168.37 L115.00,168.55 L115.61,168.73 L116.22,168.90 L116.83,169.08 L117.44,169.25 L118.05,169.42 L118.66,169.58 L119.27,169.75 L119.88,169.91 L120.49,170.07 L121.10,170.23 L121.71,170.38 L122.32,170.54 L122.93,170.69 L123.53,170.84 L124.14,170.98 L124.75,171.13 L125.36,171.27 L125.97,171.41 L126.58,171.55 L127.19,171.69 L127.80,171.82 L128.41,171.95 L129.02,172.08 L129.63,172.21 L130.24,172.34 L130.85,172.46 L131.46,172.59 L132.07,172.71 L132.68,172.83 L133.29,172.95 L133.90,173.06 L134.51,173.18 L135.12,173.29 L135.73,173.40 L136.34,173.51 L136.95,173.62 L137.56,173.73 L138.17,173.83 L138.78,173.94 L139.39,174.04 L140.00,174.14 L140.61,174.24 L141.22,174.33 L141.83,174.43 L142.44,174.53 L143.05,174.62 L143.66,174.71 L144.27,174.80 L144.88,174.89 L145.49,174.98 L146.10,175.07 L146.71,175.15 L147.32,175.24 L147.93,175.32 L148.54,175.40 L149.15,175.48 L149.76,175.56 L150.37,175.64 L150.98,175.71 L151.59,175.79 L152.20,175.87 L152.80,175.94 L153.41,176.01 L154.02,176.08 L154.63,176.15 L155.24,176.22 L155.85,176.29 L156.46,176.36 L157.07,176.42 L157.68,176.49 L158.29,176.55 L158.90,176.62 L159.51,176.68 L160.12,176.74 L160.73,176.80 L161.34,176.86 L161.95,176.92 L162.56,176.98 L163.17,177.03 L163.78,177.09 L164.39,177.14 L165.00,177.20 L165.61,177.25 L166.22,177.30 L166.83,177.35 L167.44,177.41 L168.05,177.46 L168.66,177.50 L169.27,177.55 L169.88,177.60 L170.49,177.65 L171.10,177.69 L171.71,177.74 L172.32,177.79 L172.93,177.83 L173.54,177.87 L174.15,177.92 L174.76,177.96 L175.37,178.00 L175.98,178.04 L176.59,178.08 L177.20,178.12 L177.81,178.16 L178.42,178.20 L179.03,178.23 L179.64,178.27 L180.25,178.31 L180.86,178.34 L181.47,178.38 L182.07,178.41 L182.68,178.45 L183.29,178.48 L183.90,178.51 L184.51,178.55 L185.12,178.58 L185.73,178.61 L186.34,178.64 L186.95,178.67 L187.56,178.70 L188.17,178.73 L188.78,178.76 L189.39,178.79 L190.00,178.81 L190.61,178.84 L191.22,178.87 L191.83,178.90 L192.44,178.92 L193.05,178.95 L193.66,178.97 L194.27,179.00 L194.88,179.02 L195.49,179.04 L196.10,179.07 L196.71,179.09 L197.32,179.11 L197.93,179.14 L198.54,179.16 L199.15,179.18 L199.76,179.20 L200.37,179.22 L200.98,179.24 L201.59,179.26 L202.20,179.28 L202.81,179.30 L203.42,179.32 L204.03,179.34 L204.64,179.35 L205.25,179.37 L205.86,179.39 L206.47,179.41 L207.08,179.42 L207.69,179.44 L208.30,179.46 L208.91,179.47 L209.52,179.49 L210.13,179.50 L210.74,179.52 L211.34,179.53 L211.95,179.55 L212.56,179.56 L213.17,179.58 L213.78,179.59 L214.39,179.60 L215.00,179.62 L215.61,179.63 L216.22,179.64 L216.83,179.65 L217.44,179.66 L218.05,179.68 L218.66,179.69 L219.27,179.70 L219.88,179.71 L220.49,179.72 L221.10,179.73 L221.71,179.74 L222.32,179.75 L222.93,179.76 L223.54,179.77 L224.15,179.78 L224.76,179.79 L225.37,179.80 L225.98,179.81 L226.59,179.82 L227.20,179.82 L227.81,179.83 L228.42,179.84 L229.03,179.85 L229.64,179.86 L230.25,179.86 L230.86,179.87 L231.47,179.88 L232.08,179.88 L232.69,179.89 L233.30,179.90 L233.91,179.90 L234.52,179.91 L235.13,179.91 L235.74,179.92 L236.35,179.93 L236.96,179.93 L237.57,179.94 L238.18,179.94 L238.79,179.95 L239.40,179.95 L240.01,179.96 L240.61,179.96 L241.22,179.97 L241.83,179.97 L242.44,179.97 L243.05,179.98 L243.66,179.98 L244.27,179.98 L244.88,179.99 L245.49,179.99 L246.10,180.00 L246.71,180.00 L247.32,180.00 L247.93,180.00 L248.54,180.01 L249.15,180.01 L249.76,180.01 L250.37,180.01 L250.98,180.02 L251.59,180.02 L252.20,180.02 L252.81,180.02 L253.42,180.03 L254.03,180.03 L254.64,180.03 L255.25,180.03 L255.86,180.03 L256.47,180.03 L257.08,180.03 L257.69,180.04 L258.30,180.04 L258.91,180.04 L259.52,180.04 L260.13,180.04 L260.74,180.04 L261.35,180.04 L261.96,180.04 L262.57,180.04 L263.18,180.04 L263.79,180.04 L264.40,180.04 L265.01,180.04 L265.62,180.04 L266.23,180.04 L266.84,180.04 L267.45,180.04 L268.06,180.04 L268.54,180.04" stroke="#F89F13"/>
<path d="M23.59,30.01 L24.14,32.07 L24.75,34.32 L25.36,36.53 L25.97,38.71 L26.58,40.86 L27.19,42.97 L27.80,45.05 L28.41,47.09 L29.02,49.11 L29.63,51.10 L30.24,53.06 L30.85,54.99 L31.46,56.89 L32.07,58.77 L32.68,60.62 L33.29,62.44 L33.90,64.24 L34.51,66.01 L35.12,67.76 L35.72,69.48 L36.33,71.18 L36.94,72.85 L37.55,74.50 L38.16,76.12 L38.77,77.72 L39.38,79.30 L39.99,80.85 L40.60,82.38 L41.21,83.89 L41.82,85.37 L42.43,86.84 L43.04,88.28 L43.65,89.70 L44.26,91.10 L44.87,92.48 L45.48,93.84 L46.09,95.17 L46.70,96.49 L47.31,97.78 L47.92,99.06 L48.53,100.32 L49.14,101.55 L49.75,102.77 L50.36,103.97 L50.97,105.15 L51.58,106.31 L52.19,107.46 L52.80,108.59 L53.41,109.69 L54.02,110.79 L54.63,111.86 L55.24,112.92 L55.85,113.96 L56.46,114.98 L57.07,115.99 L57.68,116.99 L58.29,117.96 L58.90,118.93 L59.51,119.87 L60.12,120.80 L60.73,121.72 L61.34,122.62 L61.95,123.51 L62.56,124.39 L63.17,125.25 L63.78,126.09 L64.39,126.93 L64.99,127.75 L65.60,128.56 L66.21,129.35 L66.82,130.13 L67.43,130.90 L68.04,131.66 L68.65,132.41 L69.26,133.14 L69.87,133.86 L70.48,134.57 L71.09,135.27 L71.70,135.96 L72.31,136.64 L72.92,137.31 L73.53,137.96 L74.14,138.61 L74.75,139.24 L75.36,139.87 L75.97,140.49 L76.58,141.09 L77.19,141.69 L77.80,142.28 L78.41,142.86 L79.02,143.43 L79.63,143.99 L80.24,144.54 L80.85,145.08 L81.46,145.62 L82.07,146.14 L82.68,146.66 L83.29,147.17 L83.90,147.68 L84.51,148.17 L85.12,148.66 L85.73,149.14 L86.34,149.61 L86.95,150.07 L87.56,150.53 L88.17,150.98 L88.78,151.42 L89.39,151.86 L90.00,152.29 L90.61,152.71 L91.22,153.13 L91.83,153.54 L92.44,153.94 L93.05,154.34 L93.66,154.73 L94.26,155.12 L94.87,155.50 L95.48,155.87 L96.09,156.24 L96.70,156.60 L97.31,156.96 L97.92,157.31 L98.53,157.66 L99.14,158.00 L99.75,158.33 L100.36,158.66 L100.97,158.99 L101.58,159.31 L102.19,159.63 L102.80,159.94 L103.41,160.24 L104.02,160.55 L104.63,160.84 L105.24,161.13 L105.85,161.42 L106.46,161.71 L107.07,161.99 L107.68,162.26 L108.29,162.53 L108.90,162.80 L109.51,163.06 L110.12,163.32 L110.73,163.58 L111.34,163.83 L111.95,164.08 L112.56,164.32 L113.17,164.56 L113.78,164.80 L114.39,165.03 L115.00,165.26 L115.61,165.49 L116.22,165.71 L116.83,165.93 L117.44,166.14 L118.05,166.36 L118.66,166.57 L119.27,166.77 L119.88,166.98 L120.49,167.18 L121.10,167.38 L121.71,167.57 L122.32,167.76 L122.93,167.95 L123.53,168.14 L124.14,168.32 L124.75,168.50 L125.36,168.68 L125.97,168.85 L126.58,169.03 L127.19,169.20 L127.80,169.36 L128.41,169.53 L129.02,169.69 L129.63,169.85 L130.24,170.01 L130.85,170.17 L131.46,170.32 L132.07,170.47 L132.68,170.62 L133.29,170.76 L133.90,170.91 L134.51,171.05 L135.12,171.19 L135.73,171.33 L136.34,171.47 L136.95,171.60 L137.56,171.73 L138.17,171.86 L138.78,171.99 L139.39,172.12 L140.00,172.24 L140.61,172.36 L141.22,172.48 L141.83,172.60 L142.44,172.72 L143.05,172.84 L143.66,172.95 L144.27,173.06 L144.88,173.17 L145.49,173.28 L146.10,173.39 L146.71,173.49 L147.32,173.60 L147.93,173.70 L148.54,173.80 L149.15,173.90 L149.76,174.00 L150.37,174.10 L150.98,174.19 L151.59,174.29 L152.20,174.38 L152.80,174.47 L153.41,174.56 L154.02,174.65 L154.63,174.73 L155.24,174.82 L155.85,174.90 L156.46,174.99 L157.07,175.07 L157.68,175.15 L158.29,175.23 L158.90,175.31 L159.51,175.39 L160.12,175.46 L160.73,175.54 L161.34,175.61 L161.95,175.68 L162.56,175.76 L163.17,175.83 L163.78,175.90 L164.39,175.96 L165.00,176.03 L165.61,176.10 L166.22,176.16 L166.83,176.23 L167.44,176.29 L168.05,176.36 L168.66,176.42 L169.27,176.48 L169.88,176.54 L170.49,176.60 L171.10,176.65 L171.71,176.71 L172.32,176.77 L172.93,176.82 L173.54,176.88 L174.15,176.93 L174.76,176.98 L175.37,177.04 L175.98,177.09 L176.59,177.14 L177.20,177.19 L177.81,177.24 L178.42,177.29 L179.03,177.33 L179.64,177.38 L180.25,177.43 L180.86,177.47 L181.47,177.52 L182.07,177.56 L182.68,177.60 L183.29,177.65 L183.90,177.69 L184.51,177.73 L185.12,177.77 L185.73,177.81 L186.34,177.85 L186.95,177.89 L187.56,177.93 L188.17,177.97 L188.78,178.00 L189.39,178.04 L190.00,178.08 L190.61,178.11 L191.22,178.15 L191.83,178.18 L192.44,178.21 L193.05,178.25 L193.66,178.28 L194.27,178.31 L194.88,178.34 L195.49,178.37 L196.10,178.41 L196.71,178.44 L197.32,178.47 L197.93,178.49 L198.54,178.52 L199.15,178.55 L199.76,178.58 L200.37,178.61 L200.98,178.63 L201.59,178.66 L202.20,178.69 L202.81,178.71 L203.42,178.74 L204.03,178.76 L204.64,178.79 L205.25,178.81 L205.86,178.83 L206.47,178.86 L207.08,178.88 L207.69,178.90 L208.30,178.92 L208.91,178.94 L209.52,178.97 L210.13,178.99 L210.74,179.01 L211.34,179.03 L211.95,179.05 L212.56,179.07 L213.17,179.09 L213.78,179.10 L214.39,179.12 L215.00,179.14 L215.61,179.16 L216.22,179.18 L216.83,179.19 L217.44,179.21 L218.05,179.23 L218.66,179.24 L219.27,179.26 L219.88,179.27 L220.49,179.29 L221.10,179.31 L221.71,179.32 L222.32,179.33 L222.93,179.35 L223.54,179.36 L224.15,179.38 L224.76,179.39 L225.37,179.40 L225.98,179.42 L226.59,179.43 L227.20,179.44 L227.81,179.45 L228.42,179.47 L229.03,179.48 L229.64,179.49 L230.25,179.50 L230.86,179.51 L231.47,179.52 L232.08,179.53 L232.69,179.54 L233.30,179.55 L233.91,179.56 L234.52,179.57 L235.13,179.58 L235.74,179.59 L236.35,179.60 L236.96,179.61 L237.57,179.62 L238.18,179.63 L238.79,179.64 L239.40,179.64 L240.01,179.65 L240.61,179.66 L241.22,179.67 L241.83,179.68 L242.44,179.68 L243.05,179.69 L243.66,179.70 L244.27,179.70 L244.88,179.71 L245.49,179.72 L246.10,179.72 L246.71,179.73 L247.32,179.73 L247.93,179.74 L248.54,179.75 L249.15,179.75 L249.76,179.76 L250.37,179.76 L250.98,179.77 L251.59,179.77 L252.20,179.78 L252.81,179.78 L253.42,179.79 L254.03,179.79 L254.64,179.80 L255.25,179.80 L255.86,179.80 L256.47,179.81 L257.08,179.81 L257.69,179.81 L258.30,179.82 L258.91,179.82 L259.52,179.82 L260.13,179.83 L260.74,179.83 L261.35,179.83 L261.96,179.84 L262.57,179.84 L263.18,179.84 L263.79,179.84 L264.40,179.85 L265.01,179.85 L265.62,179.85 L266.23,179.85 L266.84,179.85 L267.45,179.86 L268.06,179.86 L268.54,179.86" stroke="#BC5B80"/>
</g></g>
<path d="M43.5,4.1 V356.7" stroke="#000" stroke-opacity="0.6" stroke-width="1.05" fill="none"/>
<path d="M482.5,4.1 V356.7" stroke="#000" stroke-opacity="0.42" stroke-width="1.05" fill="none"/>
<path d="M42.95,4.5 H483.0 M42.95,356.40000000000003 H483.0" stroke="#000" stroke-opacity="0.4" stroke-width="0.85" fill="none"/>
<path d="M43.45,355.95 v-3.55 M43.45,4.92 v3.48 M65.40,355.95 v-2.15 M65.40,4.92 v2.08 M87.36,355.95 v-2.15 M87.36,4.92 v2.08 M109.31,355.95 v-2.15 M109.31,4.92 v2.08 M131.26,355.95 v-2.15 M131.26,4.92 v2.08 M153.21,355.95 v-3.55 M153.21,4.92 v3.48 M175.17,355.95 v-2.15 M175.17,4.92 v2.08 M197.12,355.95 v-2.15 M197.12,4.92 v2.08 M219.07,355.95 v-2.15 M219.07,4.92 v2.08 M241.02,355.95 v-2.15 M241.02,4.92 v2.08 M262.98,355.95 v-3.55 M262.98,4.92 v3.48 M284.93,355.95 v-2.15 M284.93,4.92 v2.08 M306.88,355.95 v-2.15 M306.88,4.92 v2.08 M328.83,355.95 v-2.15 M328.83,4.92 v2.08 M350.79,355.95 v-2.15 M350.79,4.92 v2.08 M372.74,355.95 v-3.55 M372.74,4.92 v3.48 M394.69,355.95 v-2.15 M394.69,4.92 v2.08 M416.64,355.95 v-2.15 M416.64,4.92 v2.08 M438.60,355.95 v-2.15 M438.60,4.92 v2.08 M460.55,355.95 v-2.15 M460.55,4.92 v2.08 M482.50,355.95 v-3.55 M482.50,4.92 v3.48" stroke="#000" stroke-opacity="0.5" stroke-width="1.0" fill="none"/>
<path d="M43.95,356.30 h4.9 M43.95,344.57 h2.7 M43.95,332.85 h2.7 M43.95,321.12 h2.7 M43.95,309.39 h2.7 M43.95,297.67 h4.9 M43.95,285.94 h2.7 M43.95,274.21 h2.7 M43.95,262.49 h2.7 M43.95,250.76 h2.7 M43.95,239.03 h4.9 M43.95,227.31 h2.7 M43.95,215.58 h2.7 M43.95,203.85 h2.7 M43.95,192.13 h2.7 M43.95,180.40 h4.9 M43.95,168.67 h2.7 M43.95,156.95 h2.7 M43.95,145.22 h2.7 M43.95,133.49 h2.7 M43.95,121.77 h4.9 M43.95,110.04 h2.7 M43.95,98.31 h2.7 M43.95,86.59 h2.7 M43.95,74.86 h2.7 M43.95,63.13 h4.9 M43.95,51.41 h2.7 M43.95,39.68 h2.7 M43.95,27.95 h2.7 M43.95,16.23 h2.7 M43.95,4.50 h4.9" stroke="#000" stroke-opacity="0.55" stroke-width="0.7" fill="none"/>
<path d="M482.0,356.30 h-4.9 M482.0,344.57 h-2.7 M482.0,332.85 h-2.7 M482.0,321.12 h-2.7 M482.0,309.39 h-2.7 M482.0,297.67 h-4.9 M482.0,285.94 h-2.7 M482.0,274.21 h-2.7 M482.0,262.49 h-2.7 M482.0,250.76 h-2.7 M482.0,239.03 h-4.9 M482.0,227.31 h-2.7 M482.0,215.58 h-2.7 M482.0,203.85 h-2.7 M482.0,192.13 h-2.7 M482.0,180.40 h-4.9 M482.0,168.67 h-2.7 M482.0,156.95 h-2.7 M482.0,145.22 h-2.7 M482.0,133.49 h-2.7 M482.0,121.77 h-4.9 M482.0,110.04 h-2.7 M482.0,98.31 h-2.7 M482.0,86.59 h-2.7 M482.0,74.86 h-2.7 M482.0,63.13 h-4.9 M482.0,51.41 h-2.7 M482.0,39.68 h-2.7 M482.0,27.95 h-2.7 M482.0,16.23 h-2.7 M482.0,4.50 h-4.9" stroke="#000" stroke-opacity="0.5" stroke-width="0.7" fill="none"/>
<g opacity="0.999">
<text transform="translate(38.2,359.1) scale(1.48,1)" font-size="8.3" text-anchor="end" >0.7</text>
<text transform="translate(38.2,300.47) scale(1.48,1)" font-size="8.3" text-anchor="end" >0.8</text>
<text transform="translate(38.2,241.83) scale(1.48,1)" font-size="8.3" text-anchor="end" >0.9</text>
<text transform="translate(38.2,183.2) scale(1.48,1)" font-size="8.3" text-anchor="end" >1.0</text>
<text transform="translate(38.2,124.57) scale(1.48,1)" font-size="8.3" text-anchor="end" >1.1</text>
<text transform="translate(38.2,65.93) scale(1.48,1)" font-size="8.3" text-anchor="end" >1.2</text>
<text transform="translate(38.2,7.3) scale(1.48,1)" font-size="8.3" text-anchor="end" >1.3</text>
<text transform="translate(42.55,366.0) scale(1.48,1)" font-size="8.3" text-anchor="middle" >0.0</text>
<text transform="translate(152.31,366.0) scale(1.48,1)" font-size="8.3" text-anchor="middle" >0.5</text>
<text transform="translate(262.08,366.0) scale(1.48,1)" font-size="8.3" text-anchor="middle" >1.0</text>
<text transform="translate(371.84,366.0) scale(1.48,1)" font-size="8.3" text-anchor="middle" >1.5</text>
<text transform="translate(481.6,366.0) scale(1.48,1)" font-size="8.3" text-anchor="middle" >2.0</text>
<text transform="translate(262.5,380) scale(1.48,1)" font-size="8.3" text-anchor="middle" font-style="italic">U</text>
<text transform="translate(10.3,180.5) scale(1.48,1) rotate(-90)" font-size="8.3" text-anchor="middle" >Y</text>
</g>
</svg></body></html>
